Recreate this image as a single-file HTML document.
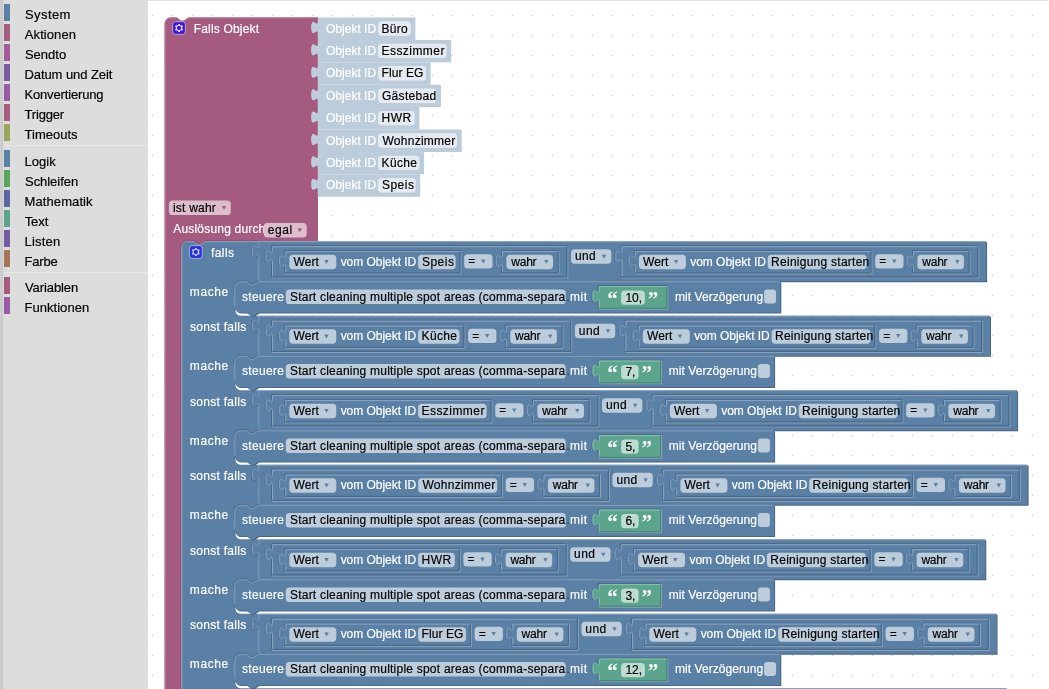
<!DOCTYPE html><html><head><meta charset="utf-8"><title>Blockly</title><style>html,body{margin:0;padding:0;width:1049px;height:689px;overflow:hidden;background:#fff}svg{position:absolute;left:0;top:0;will-change:transform;font-family:"Liberation Sans",Arial,sans-serif;font-size:12px}text{stroke-width:0.18px;paint-order:stroke}</style></head><body>
<svg width="1049" height="689" viewBox="0 0 1049 689">
<rect x="0" y="0" width="148" height="689" fill="#dddddd"/>
<rect x="0" y="0" width="3" height="689" fill="#cccccc"/>
<rect x="3" y="0" width="1" height="689" fill="#d7d7d7"/>
<rect x="4" y="4" width="6" height="17" fill="#5b80a5"/>
<text x="24.91" y="18.8" fill="#000" stroke="#000" font-size="13" textLength="45.55" lengthAdjust="spacing">System</text>
<rect x="4" y="24" width="6" height="17" fill="#a55b80"/>
<text x="24.87" y="38.8" fill="#000" stroke="#000" font-size="13" textLength="51.07" lengthAdjust="spacing">Aktionen</text>
<rect x="4" y="44" width="6" height="17" fill="#a55b99"/>
<text x="24.91" y="58.8" fill="#000" stroke="#000" font-size="13" textLength="41.24" lengthAdjust="spacing">Sendto</text>
<rect x="4" y="64" width="6" height="17" fill="#7a5ba5"/>
<text x="24.43" y="78.8" fill="#000" stroke="#000" font-size="13" textLength="87.96" lengthAdjust="spacing">Datum und Zeit</text>
<rect x="4" y="84" width="6" height="17" fill="#955ba5"/>
<text x="24.43" y="98.8" fill="#000" stroke="#000" font-size="13" textLength="79.1" lengthAdjust="spacing">Konvertierung</text>
<rect x="4" y="104" width="6" height="17" fill="#a55b80"/>
<text x="24.61" y="118.8" fill="#000" stroke="#000" font-size="13" textLength="39.51" lengthAdjust="spacing">Trigger</text>
<rect x="4" y="124" width="6" height="17" fill="#99a55b"/>
<text x="24.61" y="138.8" fill="#000" stroke="#000" font-size="13" textLength="52.96" lengthAdjust="spacing">Timeouts</text>
<rect x="4" y="150" width="6" height="17" fill="#5b80a5"/>
<text x="24.43" y="165.8" fill="#000" stroke="#000" font-size="13" textLength="31.35" lengthAdjust="spacing">Logik</text>
<rect x="4" y="170" width="6" height="17" fill="#5ba55b"/>
<text x="25.01" y="185.8" fill="#000" stroke="#000" font-size="13" textLength="53.13" lengthAdjust="spacing">Schleifen</text>
<rect x="4" y="190" width="6" height="17" fill="#5b67a5"/>
<text x="24.53" y="205.8" fill="#000" stroke="#000" font-size="13" textLength="68.05" lengthAdjust="spacing">Mathematik</text>
<rect x="4" y="210" width="6" height="17" fill="#5ba58c"/>
<text x="24.71" y="225.8" fill="#000" stroke="#000" font-size="13" textLength="23.59" lengthAdjust="spacing">Text</text>
<rect x="4" y="230" width="6" height="17" fill="#745ba5"/>
<text x="24.53" y="245.8" fill="#000" stroke="#000" font-size="13" textLength="35.61" lengthAdjust="spacing">Listen</text>
<rect x="4" y="250" width="6" height="17" fill="#a5745b"/>
<text x="24.53" y="265.8" fill="#000" stroke="#000" font-size="13" textLength="33.14" lengthAdjust="spacing">Farbe</text>
<rect x="4" y="277" width="6" height="17" fill="#a55b80"/>
<text x="24.94" y="291.6" fill="#000" stroke="#000" font-size="13" textLength="53.3" lengthAdjust="spacing">Variablen</text>
<rect x="4" y="297" width="6" height="17" fill="#995ba5"/>
<text x="24.53" y="311.6" fill="#000" stroke="#000" font-size="13" textLength="64.61" lengthAdjust="spacing">Funktionen</text>
<rect x="4" y="145" width="144" height="1" fill="#e8e8e8"/>
<rect x="4" y="272" width="144" height="1" fill="#e8e8e8"/>
<rect x="148" y="0" width="901" height="689" fill="#ffffff"/>
<rect x="148" y="0" width="901" height="1" fill="#e3e3e3"/>
<defs><pattern id="grid" x="0" y="0" width="20" height="20" patternUnits="userSpaceOnUse"><rect x="11.75" y="14.85" width="1.3" height="1.3" fill="#cdcdcd"/></pattern></defs>
<rect x="148" y="1" width="901" height="688" fill="url(#grid)"/>
<path d="M 164.5,23.7 a 6.4,6.4 0 0,1 6.4,-6.4 H 176.5 l 4.8,3.2 2.4,0 4.8,-3.2 H 318 V 17.5 v 4 c 0,8 -6.4,-6.4 -6.4,6 s 6.4,-2 6.4,6 V 39.9 v 4 c 0,8 -6.4,-6.4 -6.4,6 s 6.4,-2 6.4,6 V 62.3 v 4 c 0,8 -6.4,-6.4 -6.4,6 s 6.4,-2 6.4,6 V 84.7 v 4 c 0,8 -6.4,-6.4 -6.4,6 s 6.4,-2 6.4,6 V 107.1 v 4 c 0,8 -6.4,-6.4 -6.4,6 s 6.4,-2 6.4,6 V 129.5 v 4 c 0,8 -6.4,-6.4 -6.4,6 s 6.4,-2 6.4,6 V 151.9 v 4 c 0,8 -6.4,-6.4 -6.4,6 s 6.4,-2 6.4,6 V 174.3 v 4 c 0,8 -6.4,-6.4 -6.4,6 s 6.4,-2 6.4,6 V 241.2 H 205.4 l -4.8,3.2 -2.4,0 -4.8,-3.2 H 187.8 a 6.4,6.4 0 0,0 -6.4,6.4 V 720 H 164.5 Z" fill="#a55b80"/>
<path d="M 165,720 V 23.7 a 5.9,5.9 0 0,1 5.9,-5.9 H 176.5 l 4.8,3.2 2.4,0 4.8,-3.2 H 317.5" stroke="#c08ca6" stroke-width="1" stroke-opacity="0.8" fill="none"/>
<path d="M 180.8,247.6 V 700" stroke="#844966" stroke-width="1" stroke-opacity="0.6" fill="none"/>
<g transform="translate(172.6,21.6) scale(0.8)">
<rect width="16" height="16" rx="3.5" fill="#3c1ed2" stroke="#d9b8d0" stroke-opacity="0.9" stroke-width="1.1"/>
<path d="m4.203,7.296 0,1.368 -0.92,0.677 -0.11,0.41 0.9,1.559 0.41,0.11 1.043,-0.457 1.187,0.683 0.127,1.134 0.3,0.3 1.8,0 0.3,-0.299 0.127,-1.138 1.185,-0.682 1.046,0.458 0.409,-0.11 0.9,-1.559 -0.11,-0.41 -0.92,-0.677 0,-1.366 0.92,-0.677 0.11,-0.41 -0.9,-1.559 -0.409,-0.109 -1.046,0.458 -1.185,-0.682 -0.127,-1.138 -0.3,-0.299 -1.8,0 -0.3,0.3 -0.126,1.135 -1.187,0.682 -1.043,-0.457 -0.41,0.11 -0.899,1.559 0.108,0.409z" fill="#ecd2df"/>
<circle cx="8" cy="8" r="2.7" fill="#3c1ed2"/>
</g>
<text x="193.72" y="32.6" fill="#fff" stroke="#fff" textLength="65.37" lengthAdjust="spacing">Falls Objekt</text>
<path d="M 317.8,17.5 H 415.4 V 39.9 H 317.8 V 33.5 c 0,-8 -6.4,6.4 -6.4,-6 s 6.4,2 6.4,-6 Z" fill="#bdccdb"/>
<text x="326.03" y="32.6" fill="#fff" stroke="#fff" textLength="50.04" lengthAdjust="spacing">Objekt ID</text>
<rect x="378.1" y="21.3" width="32.7" height="14.4" rx="3.6" fill="#e5ebf1"/>
<text x="381.52" y="32.6" fill="#000" stroke="#000" textLength="26.29" lengthAdjust="spacing">Büro</text>
<path d="M 317.8,39.9 H 451.2 V 62.3 H 317.8 V 55.9 c 0,-8 -6.4,6.4 -6.4,-6 s 6.4,2 6.4,-6 Z" fill="#bdccdb"/>
<text x="326.03" y="55" fill="#fff" stroke="#fff" textLength="50.04" lengthAdjust="spacing">Objekt ID</text>
<rect x="378.1" y="43.7" width="68.5" height="14.4" rx="3.6" fill="#e5ebf1"/>
<text x="381.52" y="55" fill="#000" stroke="#000" textLength="62.88" lengthAdjust="spacing">Esszimmer</text>
<path d="M 317.8,62.3 H 430.6 V 84.7 H 317.8 V 78.3 c 0,-8 -6.4,6.4 -6.4,-6 s 6.4,2 6.4,-6 Z" fill="#bdccdb"/>
<text x="326.03" y="77.4" fill="#fff" stroke="#fff" textLength="50.04" lengthAdjust="spacing">Objekt ID</text>
<rect x="378.1" y="66.1" width="47.9" height="14.4" rx="3.6" fill="#e5ebf1"/>
<text x="381.52" y="77.4" fill="#000" stroke="#000" textLength="41.88" lengthAdjust="spacing">Flur EG</text>
<path d="M 317.8,84.7 H 440.9 V 107.1 H 317.8 V 100.7 c 0,-8 -6.4,6.4 -6.4,-6 s 6.4,2 6.4,-6 Z" fill="#bdccdb"/>
<text x="326.03" y="99.8" fill="#fff" stroke="#fff" textLength="50.04" lengthAdjust="spacing">Objekt ID</text>
<rect x="378.1" y="88.5" width="58.2" height="14.4" rx="3.6" fill="#e5ebf1"/>
<text x="381.9" y="99.8" fill="#000" stroke="#000" textLength="54.38" lengthAdjust="spacing">Gästebad</text>
<path d="M 317.8,107.1 H 419.4 V 129.5 H 317.8 V 123.1 c 0,-8 -6.4,6.4 -6.4,-6 s 6.4,2 6.4,-6 Z" fill="#bdccdb"/>
<text x="326.03" y="122.2" fill="#fff" stroke="#fff" textLength="50.04" lengthAdjust="spacing">Objekt ID</text>
<rect x="378.1" y="110.9" width="36.7" height="14.4" rx="3.6" fill="#e5ebf1"/>
<text x="381.52" y="122.2" fill="#000" stroke="#000" textLength="29.54" lengthAdjust="spacing">HWR</text>
<path d="M 317.8,129.5 H 461.7 V 151.9 H 317.8 V 145.5 c 0,-8 -6.4,6.4 -6.4,-6 s 6.4,2 6.4,-6 Z" fill="#bdccdb"/>
<text x="326.03" y="144.6" fill="#fff" stroke="#fff" textLength="50.04" lengthAdjust="spacing">Objekt ID</text>
<rect x="378.1" y="133.3" width="79" height="14.4" rx="3.6" fill="#e5ebf1"/>
<text x="382.45" y="144.6" fill="#000" stroke="#000" textLength="72.85" lengthAdjust="spacing">Wohnzimmer</text>
<path d="M 317.8,151.9 H 424.1 V 174.3 H 317.8 V 167.9 c 0,-8 -6.4,6.4 -6.4,-6 s 6.4,2 6.4,-6 Z" fill="#bdccdb"/>
<text x="326.03" y="167" fill="#fff" stroke="#fff" textLength="50.04" lengthAdjust="spacing">Objekt ID</text>
<rect x="378.1" y="155.7" width="41.4" height="14.4" rx="3.6" fill="#e5ebf1"/>
<text x="381.52" y="167" fill="#000" stroke="#000" textLength="35.52" lengthAdjust="spacing">Küche</text>
<path d="M 317.8,174.3 H 420.2 V 196.7 H 317.8 V 190.3 c 0,-8 -6.4,6.4 -6.4,-6 s 6.4,2 6.4,-6 Z" fill="#bdccdb"/>
<text x="326.03" y="189.4" fill="#fff" stroke="#fff" textLength="50.04" lengthAdjust="spacing">Objekt ID</text>
<rect x="378.1" y="178.1" width="37.5" height="14.4" rx="3.6" fill="#e5ebf1"/>
<text x="381.96" y="189.4" fill="#000" stroke="#000" textLength="31.98" lengthAdjust="spacing">Speis</text>
<rect x="168.9" y="200.6" width="61.9" height="14.4" rx="3.6" fill="#dbbdcc"/>
<text x="173" y="211.7" fill="#000" stroke="#000" textLength="42.8" lengthAdjust="spacing">ist wahr</text>
<path d="M 221.9,205.9 h 4.4 l -2.2,3.9 z" fill="#a55b80"/>
<text x="173.28" y="233.3" fill="#fff" stroke="#fff" textLength="92" lengthAdjust="spacing">Auslösung durch</text>
<rect x="263.7" y="223" width="43" height="14.4" rx="3.6" fill="#dbbdcc"/>
<text x="267.79" y="234" fill="#000" stroke="#000" textLength="24.31" lengthAdjust="spacing">egal</text>
<path d="M 297.6,228.3 h 4.4 l -2.2,3.9 z" fill="#a55b80"/>
<path d="M 181.4,247.6 a 6.4,6.4 0 0,1 6.4,-6.4 H 193.4 l 4.8,3.2 2.4,0 4.8,-3.2 H 258.3 V 241.2 v 4 c 0,8 -6.4,-6.4 -6.4,6 s 6.4,-2 6.4,6 V 281.3 H 258.3 l -4.8,3.2 -2.4,0 -4.8,-3.2 H 240.7 a 6.4,6.4 0 0,0 -6.4,6.4 V 309.3 a 6.4,6.4 0 0,0 6.4,6.4 H 258.3 V 315.7 v 4 c 0,8 -6.4,-6.4 -6.4,6 s 6.4,-2 6.4,6 V 355.8 H 258.3 l -4.8,3.2 -2.4,0 -4.8,-3.2 H 240.7 a 6.4,6.4 0 0,0 -6.4,6.4 V 383.8 a 6.4,6.4 0 0,0 6.4,6.4 H 258.3 V 390.2 v 4 c 0,8 -6.4,-6.4 -6.4,6 s 6.4,-2 6.4,6 V 430.3 H 258.3 l -4.8,3.2 -2.4,0 -4.8,-3.2 H 240.7 a 6.4,6.4 0 0,0 -6.4,6.4 V 458.3 a 6.4,6.4 0 0,0 6.4,6.4 H 258.3 V 464.7 v 4 c 0,8 -6.4,-6.4 -6.4,6 s 6.4,-2 6.4,6 V 504.8 H 258.3 l -4.8,3.2 -2.4,0 -4.8,-3.2 H 240.7 a 6.4,6.4 0 0,0 -6.4,6.4 V 532.8 a 6.4,6.4 0 0,0 6.4,6.4 H 258.3 V 539.2 v 4 c 0,8 -6.4,-6.4 -6.4,6 s 6.4,-2 6.4,6 V 579.3 H 258.3 l -4.8,3.2 -2.4,0 -4.8,-3.2 H 240.7 a 6.4,6.4 0 0,0 -6.4,6.4 V 607.3 a 6.4,6.4 0 0,0 6.4,6.4 H 258.3 V 613.7 v 4 c 0,8 -6.4,-6.4 -6.4,6 s 6.4,-2 6.4,6 V 653.8 H 258.3 l -4.8,3.2 -2.4,0 -4.8,-3.2 H 240.7 a 6.4,6.4 0 0,0 -6.4,6.4 V 681.8 a 6.4,6.4 0 0,0 6.4,6.4 H 258.3 V 720 H 181.4 Z" fill="#496684" transform="translate(1,1)"/>
<path d="M 181.4,247.6 a 6.4,6.4 0 0,1 6.4,-6.4 H 193.4 l 4.8,3.2 2.4,0 4.8,-3.2 H 258.3 V 241.2 v 4 c 0,8 -6.4,-6.4 -6.4,6 s 6.4,-2 6.4,6 V 281.3 H 258.3 l -4.8,3.2 -2.4,0 -4.8,-3.2 H 240.7 a 6.4,6.4 0 0,0 -6.4,6.4 V 309.3 a 6.4,6.4 0 0,0 6.4,6.4 H 258.3 V 315.7 v 4 c 0,8 -6.4,-6.4 -6.4,6 s 6.4,-2 6.4,6 V 355.8 H 258.3 l -4.8,3.2 -2.4,0 -4.8,-3.2 H 240.7 a 6.4,6.4 0 0,0 -6.4,6.4 V 383.8 a 6.4,6.4 0 0,0 6.4,6.4 H 258.3 V 390.2 v 4 c 0,8 -6.4,-6.4 -6.4,6 s 6.4,-2 6.4,6 V 430.3 H 258.3 l -4.8,3.2 -2.4,0 -4.8,-3.2 H 240.7 a 6.4,6.4 0 0,0 -6.4,6.4 V 458.3 a 6.4,6.4 0 0,0 6.4,6.4 H 258.3 V 464.7 v 4 c 0,8 -6.4,-6.4 -6.4,6 s 6.4,-2 6.4,6 V 504.8 H 258.3 l -4.8,3.2 -2.4,0 -4.8,-3.2 H 240.7 a 6.4,6.4 0 0,0 -6.4,6.4 V 532.8 a 6.4,6.4 0 0,0 6.4,6.4 H 258.3 V 539.2 v 4 c 0,8 -6.4,-6.4 -6.4,6 s 6.4,-2 6.4,6 V 579.3 H 258.3 l -4.8,3.2 -2.4,0 -4.8,-3.2 H 240.7 a 6.4,6.4 0 0,0 -6.4,6.4 V 607.3 a 6.4,6.4 0 0,0 6.4,6.4 H 258.3 V 613.7 v 4 c 0,8 -6.4,-6.4 -6.4,6 s 6.4,-2 6.4,6 V 653.8 H 258.3 l -4.8,3.2 -2.4,0 -4.8,-3.2 H 240.7 a 6.4,6.4 0 0,0 -6.4,6.4 V 681.8 a 6.4,6.4 0 0,0 6.4,6.4 H 258.3 V 720 H 181.4 Z" fill="#5b80a5"/>
<path d="M 180.9,250.6 V 247.6 a 6.9,6.9 0 0,1 6.9,-6.9 H 193.4 l 4.8,3.2 2.4,0 4.8,-3.2 H 258.3" stroke="#844966" stroke-width="1" stroke-opacity="0.7" fill="none"/>
<path d="M 181.9,720 V 247.6 a 5.9,5.9 0 0,1 5.9,-5.9 H 193.4 l 4.8,3.2 2.4,0 4.8,-3.2 H 257.8" stroke="#8ca6c0" stroke-width="1" stroke-opacity="0.8" fill="none"/>
<g transform="translate(189.4,245.6) scale(0.8)">
<rect width="16" height="16" rx="3.5" fill="#2a30dc" stroke="#b8c6dc" stroke-opacity="0.9" stroke-width="1.1"/>
<path d="m4.203,7.296 0,1.368 -0.92,0.677 -0.11,0.41 0.9,1.559 0.41,0.11 1.043,-0.457 1.187,0.683 0.127,1.134 0.3,0.3 1.8,0 0.3,-0.299 0.127,-1.138 1.185,-0.682 1.046,0.458 0.409,-0.11 0.9,-1.559 -0.11,-0.41 -0.92,-0.677 0,-1.366 0.92,-0.677 0.11,-0.41 -0.9,-1.559 -0.409,-0.109 -1.046,0.458 -1.185,-0.682 -0.127,-1.138 -0.3,-0.299 -1.8,0 -0.3,0.3 -0.126,1.135 -1.187,0.682 -1.043,-0.457 -0.41,0.11 -0.899,1.559 0.108,0.409z" fill="#c6d2e6"/>
<circle cx="8" cy="8" r="2.7" fill="#2a30dc"/>
</g>
<text x="211.03" y="257" fill="#fff" stroke="#fff" textLength="22.9" lengthAdjust="spacing">falls</text>
<text x="189.8" y="295.9" fill="#fff" stroke="#fff" textLength="38.43" lengthAdjust="spacing">mache</text>
<text x="190.07" y="331.2" fill="#fff" stroke="#fff" textLength="56.07" lengthAdjust="spacing">sonst falls</text>
<text x="189.8" y="370.4" fill="#fff" stroke="#fff" textLength="38.43" lengthAdjust="spacing">mache</text>
<text x="190.07" y="405.7" fill="#fff" stroke="#fff" textLength="56.07" lengthAdjust="spacing">sonst falls</text>
<text x="189.8" y="444.9" fill="#fff" stroke="#fff" textLength="38.43" lengthAdjust="spacing">mache</text>
<text x="190.07" y="480.2" fill="#fff" stroke="#fff" textLength="56.07" lengthAdjust="spacing">sonst falls</text>
<text x="189.8" y="519.4" fill="#fff" stroke="#fff" textLength="38.43" lengthAdjust="spacing">mache</text>
<text x="190.07" y="554.7" fill="#fff" stroke="#fff" textLength="56.07" lengthAdjust="spacing">sonst falls</text>
<text x="189.8" y="593.9" fill="#fff" stroke="#fff" textLength="38.43" lengthAdjust="spacing">mache</text>
<text x="190.07" y="629.2" fill="#fff" stroke="#fff" textLength="56.07" lengthAdjust="spacing">sonst falls</text>
<text x="189.8" y="668.4" fill="#fff" stroke="#fff" textLength="38.43" lengthAdjust="spacing">mache</text>
<path d="M 258.3,241.2 H 986.1 V 281.2 H 258.3 V 257.2 c 0,-8 -6.4,6.4 -6.4,-6 s 6.4,2 6.4,-6 Z" fill="#496684" transform="translate(1,1)"/>
<path d="M 258.3,241.2 H 986.1 V 281.2 H 258.3 V 257.2 c 0,-8 -6.4,6.4 -6.4,-6 s 6.4,2 6.4,-6 Z" fill="#5b80a5"/>
<path d="M 258.3,241.7 H 985.1 M 258.8,241.7 V 245.2 M 258.8,257.2 V 280.7" stroke="#8ca6c0" stroke-width="1" stroke-opacity="0.8" fill="none"/>
<path d="M 257.6,257.5 c 0,-8 -6.4,6.4 -6.4,-6 s 6.4,2 6.4,-6" stroke="#496684" stroke-width="1" stroke-opacity="0.55" fill="none"/>
<path d="M 258.9,257.2 c 0,-8 -6.4,6.4 -6.4,-6 s 6.4,2 6.4,-6" stroke="#8ca6c0" stroke-width="1" stroke-opacity="0.85" fill="none"/>
<path d="M 271.5,245.7 H 567.3 M 271.5,245.7 V 250.2" stroke="#496684" stroke-width="1" fill="none"/>
<path d="M 271.5,262.2 V 277.4" stroke="#496684" stroke-width="1" fill="none"/>
<path d="M 271.3,262.5 c 0,-8 -6.4,6.4 -6.4,-6 s 6.4,2 6.4,-6" stroke="#496684" stroke-width="1" stroke-opacity="0.55" fill="none"/>
<path d="M 272,277.9 H 567.8 V 246.2" stroke="#8ca6c0" stroke-width="1" fill="none"/>
<path d="M 272,246.2 H 567.3 V 277.4 H 272 V 262.2 c 0,-8 -6.4,6.4 -6.4,-6 s 6.4,2 6.4,-6 Z" fill="#5b80a5"/>
<path d="M 272.6,262.2 c 0,-8 -6.4,6.4 -6.4,-6 s 6.4,2 6.4,-6" stroke="#8ca6c0" stroke-width="1" stroke-opacity="0.85" fill="none"/>
<path d="M 272.5,276.4 V 262.2 M 272.5,250.2 V 246.7 H 566.3" stroke="#8ca6c0" stroke-width="1" fill="none"/>
<path d="M 566.8,246.7 V 276.9 H 272.5" stroke="#496684" stroke-width="1" fill="none"/>
<path d="M 284.8,250.6 H 460.4 M 284.8,250.6 V 255.1" stroke="#496684" stroke-width="1" fill="none"/>
<path d="M 284.8,267.1 V 273.3" stroke="#496684" stroke-width="1" fill="none"/>
<path d="M 284.6,267.4 c 0,-8 -6.4,6.4 -6.4,-6 s 6.4,2 6.4,-6" stroke="#496684" stroke-width="1" stroke-opacity="0.55" fill="none"/>
<path d="M 285.3,273.8 H 460.9 V 251.1" stroke="#8ca6c0" stroke-width="1" fill="none"/>
<path d="M 285.3,251.1 H 460.4 V 273.3 H 285.3 V 267.1 c 0,-8 -6.4,6.4 -6.4,-6 s 6.4,2 6.4,-6 Z" fill="#5b80a5"/>
<path d="M 285.9,267.1 c 0,-8 -6.4,6.4 -6.4,-6 s 6.4,2 6.4,-6" stroke="#8ca6c0" stroke-width="1" stroke-opacity="0.85" fill="none"/>
<path d="M 285.8,272.3 V 267.1 M 285.8,255.1 V 251.6 H 459.4" stroke="#8ca6c0" stroke-width="1" fill="none"/>
<path d="M 459.9,251.6 V 272.8 H 285.8" stroke="#496684" stroke-width="1" fill="none"/>
<rect x="289.3" y="254.8" width="47" height="14.4" rx="3.6" fill="#bdccdb"/>
<text x="293.45" y="265.7" fill="#000" stroke="#000" textLength="25.34" lengthAdjust="spacing">Wert</text>
<path d="M 324.3,260.1 h 4.4 l -2.2,3.9 z" fill="#5b80a5"/>
<text x="340.66" y="265.7" fill="#fff" stroke="#fff" textLength="75.62" lengthAdjust="spacing">vom Objekt ID</text>
<rect x="418.1" y="254.8" width="37.5" height="14.4" rx="3.6" fill="#bdccdb"/>
<text x="421.96" y="265.7" fill="#000" stroke="#000" textLength="31.98" lengthAdjust="spacing">Speis</text>
<rect x="464.2" y="254.2" width="28.3" height="14.4" rx="3.6" fill="#bdccdb"/>
<text x="468.31" y="265.1" fill="#000" stroke="#000" textLength="6.98" lengthAdjust="spacing">=</text>
<path d="M 481.1,259.6 h 4.4 l -2.2,3.9 z" fill="#5b80a5"/>
<path d="M 501.5,250.6 H 558.5 M 501.5,250.6 V 255.1" stroke="#496684" stroke-width="1" fill="none"/>
<path d="M 501.5,267.1 V 273.3" stroke="#496684" stroke-width="1" fill="none"/>
<path d="M 501.3,267.4 c 0,-8 -6.4,6.4 -6.4,-6 s 6.4,2 6.4,-6" stroke="#496684" stroke-width="1" stroke-opacity="0.55" fill="none"/>
<path d="M 502,273.8 H 559 V 251.1" stroke="#8ca6c0" stroke-width="1" fill="none"/>
<path d="M 502,251.1 H 558.5 V 273.3 H 502 V 267.1 c 0,-8 -6.4,6.4 -6.4,-6 s 6.4,2 6.4,-6 Z" fill="#5b80a5"/>
<path d="M 502.6,267.1 c 0,-8 -6.4,6.4 -6.4,-6 s 6.4,2 6.4,-6" stroke="#8ca6c0" stroke-width="1" stroke-opacity="0.85" fill="none"/>
<path d="M 502.5,272.3 V 267.1 M 502.5,255.1 V 251.6 H 557.5" stroke="#8ca6c0" stroke-width="1" fill="none"/>
<path d="M 558,251.6 V 272.8 H 502.5" stroke="#496684" stroke-width="1" fill="none"/>
<rect x="506.4" y="254.8" width="46.6" height="14.4" rx="3.6" fill="#bdccdb"/>
<text x="511.22" y="265.7" fill="#000" stroke="#000" textLength="25.38" lengthAdjust="spacing">wahr</text>
<path d="M 544.1,260.1 h 4.4 l -2.2,3.9 z" fill="#5b80a5"/>
<rect x="571" y="249.3" width="40.3" height="14.4" rx="3.6" fill="#bdccdb"/>
<text x="574.92" y="260.3" fill="#000" stroke="#000" textLength="20.85" lengthAdjust="spacing">und</text>
<path d="M 601.9,254.8 h 4.4 l -2.2,3.9 z" fill="#5b80a5"/>
<path d="M 621.1,245.7 H 978.3 M 621.1,245.7 V 250.2" stroke="#496684" stroke-width="1" fill="none"/>
<path d="M 621.1,262.2 V 277.4" stroke="#496684" stroke-width="1" fill="none"/>
<path d="M 620.9,262.5 c 0,-8 -6.4,6.4 -6.4,-6 s 6.4,2 6.4,-6" stroke="#496684" stroke-width="1" stroke-opacity="0.55" fill="none"/>
<path d="M 621.6,277.9 H 978.8 V 246.2" stroke="#8ca6c0" stroke-width="1" fill="none"/>
<path d="M 621.6,246.2 H 978.3 V 277.4 H 621.6 V 262.2 c 0,-8 -6.4,6.4 -6.4,-6 s 6.4,2 6.4,-6 Z" fill="#5b80a5"/>
<path d="M 622.2,262.2 c 0,-8 -6.4,6.4 -6.4,-6 s 6.4,2 6.4,-6" stroke="#8ca6c0" stroke-width="1" stroke-opacity="0.85" fill="none"/>
<path d="M 622.1,276.4 V 262.2 M 622.1,250.2 V 246.7 H 977.3" stroke="#8ca6c0" stroke-width="1" fill="none"/>
<path d="M 977.8,246.7 V 276.9 H 622.1" stroke="#496684" stroke-width="1" fill="none"/>
<path d="M 634.4,250.6 H 871.4 M 634.4,250.6 V 255.1" stroke="#496684" stroke-width="1" fill="none"/>
<path d="M 634.4,267.1 V 273.3" stroke="#496684" stroke-width="1" fill="none"/>
<path d="M 634.2,267.4 c 0,-8 -6.4,6.4 -6.4,-6 s 6.4,2 6.4,-6" stroke="#496684" stroke-width="1" stroke-opacity="0.55" fill="none"/>
<path d="M 634.9,273.8 H 871.9 V 251.1" stroke="#8ca6c0" stroke-width="1" fill="none"/>
<path d="M 634.9,251.1 H 871.4 V 273.3 H 634.9 V 267.1 c 0,-8 -6.4,6.4 -6.4,-6 s 6.4,2 6.4,-6 Z" fill="#5b80a5"/>
<path d="M 635.5,267.1 c 0,-8 -6.4,6.4 -6.4,-6 s 6.4,2 6.4,-6" stroke="#8ca6c0" stroke-width="1" stroke-opacity="0.85" fill="none"/>
<path d="M 635.4,272.3 V 267.1 M 635.4,255.1 V 251.6 H 870.4" stroke="#8ca6c0" stroke-width="1" fill="none"/>
<path d="M 870.9,251.6 V 272.8 H 635.4" stroke="#496684" stroke-width="1" fill="none"/>
<rect x="638.9" y="254.8" width="47" height="14.4" rx="3.6" fill="#bdccdb"/>
<text x="643.05" y="265.7" fill="#000" stroke="#000" textLength="25.34" lengthAdjust="spacing">Wert</text>
<path d="M 673.9,260.1 h 4.4 l -2.2,3.9 z" fill="#5b80a5"/>
<text x="690.26" y="265.7" fill="#fff" stroke="#fff" textLength="75.62" lengthAdjust="spacing">vom Objekt ID</text>
<rect x="767.7" y="254.8" width="98.9" height="14.4" rx="3.6" fill="#bdccdb"/>
<text x="771.12" y="265.7" fill="#000" stroke="#000" textLength="98.16" lengthAdjust="spacing">Reinigung starten</text>
<rect x="875.2" y="254.2" width="28.3" height="14.4" rx="3.6" fill="#bdccdb"/>
<text x="879.31" y="265.1" fill="#000" stroke="#000" textLength="6.98" lengthAdjust="spacing">=</text>
<path d="M 892.1,259.6 h 4.4 l -2.2,3.9 z" fill="#5b80a5"/>
<path d="M 912.5,250.6 H 969.5 M 912.5,250.6 V 255.1" stroke="#496684" stroke-width="1" fill="none"/>
<path d="M 912.5,267.1 V 273.3" stroke="#496684" stroke-width="1" fill="none"/>
<path d="M 912.3,267.4 c 0,-8 -6.4,6.4 -6.4,-6 s 6.4,2 6.4,-6" stroke="#496684" stroke-width="1" stroke-opacity="0.55" fill="none"/>
<path d="M 913,273.8 H 970 V 251.1" stroke="#8ca6c0" stroke-width="1" fill="none"/>
<path d="M 913,251.1 H 969.5 V 273.3 H 913 V 267.1 c 0,-8 -6.4,6.4 -6.4,-6 s 6.4,2 6.4,-6 Z" fill="#5b80a5"/>
<path d="M 913.6,267.1 c 0,-8 -6.4,6.4 -6.4,-6 s 6.4,2 6.4,-6" stroke="#8ca6c0" stroke-width="1" stroke-opacity="0.85" fill="none"/>
<path d="M 913.5,272.3 V 267.1 M 913.5,255.1 V 251.6 H 968.5" stroke="#8ca6c0" stroke-width="1" fill="none"/>
<path d="M 969,251.6 V 272.8 H 913.5" stroke="#496684" stroke-width="1" fill="none"/>
<rect x="917.4" y="254.8" width="46.6" height="14.4" rx="3.6" fill="#bdccdb"/>
<text x="922.22" y="265.7" fill="#000" stroke="#000" textLength="25.38" lengthAdjust="spacing">wahr</text>
<path d="M 955.1,260.1 h 4.4 l -2.2,3.9 z" fill="#5b80a5"/>
<path d="M 234.3,287.7 a 6.4,6.4 0 0,1 6.4,-6.4 H 246.3 l 4.8,3.2 2.4,0 4.8,-3.2 H 780.3 V 312.6 H 258.3 l -4.8,3.2 -2.4,0 -4.8,-3.2 H 240.7 a 6.4,6.4 0 0,1 -6.4,-6.4 Z" fill="#496684" transform="translate(1,1)"/>
<path d="M 234.3,287.7 a 6.4,6.4 0 0,1 6.4,-6.4 H 246.3 l 4.8,3.2 2.4,0 4.8,-3.2 H 780.3 V 312.6 H 258.3 l -4.8,3.2 -2.4,0 -4.8,-3.2 H 240.7 a 6.4,6.4 0 0,1 -6.4,-6.4 Z" fill="#5b80a5"/>
<path d="M 233.8,289.7 V 287.7 a 6.9,6.9 0 0,1 6.9,-6.9 H 246.3 l 4.8,3.2 2.4,0 4.8,-3.2 H 258.3" stroke="#496684" stroke-width="1" stroke-opacity="0.9" fill="none"/>
<path d="M 234.8,306.2 V 287.7 a 5.9,5.9 0 0,1 5.9,-5.9 H 246.3 l 4.8,3.2 2.4,0 4.8,-3.2 H 779.8" stroke="#8ca6c0" stroke-width="1" stroke-opacity="0.85" fill="none"/>
<text x="242.07" y="300.5" fill="#fff" stroke="#fff" textLength="41.87" lengthAdjust="spacing">steuere</text>
<rect x="285.8" y="289.6" width="280" height="14.4" rx="3.6" fill="#bdccdb"/>
<text x="289.96" y="300.5" fill="#000" stroke="#000" textLength="275.34" lengthAdjust="spacing">Start cleaning multiple spot areas (comma-separa</text>
<text x="565.9" y="300.5" fill="#000" fill-opacity="0.75" font-size="11">…</text>
<text x="570.1" y="300.5" fill="#fff" stroke="#fff" textLength="16.88" lengthAdjust="spacing">mit</text>
<path d="M 598.3,285.6 H 667.3 M 598.3,285.6 V 290.1" stroke="#496684" stroke-width="1" fill="none"/>
<path d="M 598.3,302.1 V 308.7" stroke="#496684" stroke-width="1" fill="none"/>
<path d="M 598.1,302.4 c 0,-8 -6.4,6.4 -6.4,-6 s 6.4,2 6.4,-6" stroke="#496684" stroke-width="1" stroke-opacity="0.55" fill="none"/>
<path d="M 598.8,309.2 H 667.8 V 286.1" stroke="#8ca6c0" stroke-width="1" fill="none"/>
<path d="M 598.8,286.1 H 667.3 V 308.7 H 598.8 V 302.1 c 0,-8 -6.4,6.4 -6.4,-6 s 6.4,2 6.4,-6 Z" fill="#5ba58c"/>
<path d="M 599.4,302.1 c 0,-8 -6.4,6.4 -6.4,-6 s 6.4,2 6.4,-6" stroke="#8cc0ae" stroke-width="1" stroke-opacity="0.85" fill="none"/>
<path d="M 599.3,307.7 V 302.1 M 599.3,290.1 V 286.6 H 666.3" stroke="#8cc0ae" stroke-width="1" fill="none"/>
<path d="M 666.8,286.6 V 308.2 H 599.3" stroke="#498470" stroke-width="1" fill="none"/>
<text x="607.2" y="305.7" fill="#fff" font-size="21" font-weight="bold" font-family="Liberation Serif, serif">“</text>
<rect x="621.1" y="290.4" width="23.8" height="14.4" rx="3.6" fill="#bddbd1"/>
<text x="625.4" y="301.7" fill="#000" stroke="#000">10,</text>
<text x="647.8" y="305.7" fill="#fff" font-size="21" font-weight="bold" font-family="Liberation Serif, serif">”</text>
<text x="675" y="300.5" fill="#fff" stroke="#fff" textLength="88.07" lengthAdjust="spacing">mit Verzögerung</text>
<rect x="764.1" y="289.4" width="12" height="14" rx="3.2" fill="#bdccdb"/>
<path d="M 258.3,315.7 H 990 V 355.7 H 258.3 V 331.7 c 0,-8 -6.4,6.4 -6.4,-6 s 6.4,2 6.4,-6 Z" fill="#496684" transform="translate(1,1)"/>
<path d="M 258.3,315.7 H 990 V 355.7 H 258.3 V 331.7 c 0,-8 -6.4,6.4 -6.4,-6 s 6.4,2 6.4,-6 Z" fill="#5b80a5"/>
<path d="M 258.3,316.2 H 989 M 258.8,316.2 V 319.7 M 258.8,331.7 V 355.2" stroke="#8ca6c0" stroke-width="1" stroke-opacity="0.8" fill="none"/>
<path d="M 257.6,332 c 0,-8 -6.4,6.4 -6.4,-6 s 6.4,2 6.4,-6" stroke="#496684" stroke-width="1" stroke-opacity="0.55" fill="none"/>
<path d="M 258.9,331.7 c 0,-8 -6.4,6.4 -6.4,-6 s 6.4,2 6.4,-6" stroke="#8ca6c0" stroke-width="1" stroke-opacity="0.85" fill="none"/>
<path d="M 271.5,320.2 H 571.2 M 271.5,320.2 V 324.7" stroke="#496684" stroke-width="1" fill="none"/>
<path d="M 271.5,336.7 V 351.9" stroke="#496684" stroke-width="1" fill="none"/>
<path d="M 271.3,337 c 0,-8 -6.4,6.4 -6.4,-6 s 6.4,2 6.4,-6" stroke="#496684" stroke-width="1" stroke-opacity="0.55" fill="none"/>
<path d="M 272,352.4 H 571.7 V 320.7" stroke="#8ca6c0" stroke-width="1" fill="none"/>
<path d="M 272,320.7 H 571.2 V 351.9 H 272 V 336.7 c 0,-8 -6.4,6.4 -6.4,-6 s 6.4,2 6.4,-6 Z" fill="#5b80a5"/>
<path d="M 272.6,336.7 c 0,-8 -6.4,6.4 -6.4,-6 s 6.4,2 6.4,-6" stroke="#8ca6c0" stroke-width="1" stroke-opacity="0.85" fill="none"/>
<path d="M 272.5,350.9 V 336.7 M 272.5,324.7 V 321.2 H 570.2" stroke="#8ca6c0" stroke-width="1" fill="none"/>
<path d="M 570.7,321.2 V 351.4 H 272.5" stroke="#496684" stroke-width="1" fill="none"/>
<path d="M 284.8,325.1 H 464.3 M 284.8,325.1 V 329.6" stroke="#496684" stroke-width="1" fill="none"/>
<path d="M 284.8,341.6 V 347.8" stroke="#496684" stroke-width="1" fill="none"/>
<path d="M 284.6,341.9 c 0,-8 -6.4,6.4 -6.4,-6 s 6.4,2 6.4,-6" stroke="#496684" stroke-width="1" stroke-opacity="0.55" fill="none"/>
<path d="M 285.3,348.3 H 464.8 V 325.6" stroke="#8ca6c0" stroke-width="1" fill="none"/>
<path d="M 285.3,325.6 H 464.3 V 347.8 H 285.3 V 341.6 c 0,-8 -6.4,6.4 -6.4,-6 s 6.4,2 6.4,-6 Z" fill="#5b80a5"/>
<path d="M 285.9,341.6 c 0,-8 -6.4,6.4 -6.4,-6 s 6.4,2 6.4,-6" stroke="#8ca6c0" stroke-width="1" stroke-opacity="0.85" fill="none"/>
<path d="M 285.8,346.8 V 341.6 M 285.8,329.6 V 326.1 H 463.3" stroke="#8ca6c0" stroke-width="1" fill="none"/>
<path d="M 463.8,326.1 V 347.3 H 285.8" stroke="#496684" stroke-width="1" fill="none"/>
<rect x="289.3" y="329.3" width="47" height="14.4" rx="3.6" fill="#bdccdb"/>
<text x="293.45" y="340.2" fill="#000" stroke="#000" textLength="25.34" lengthAdjust="spacing">Wert</text>
<path d="M 324.3,334.6 h 4.4 l -2.2,3.9 z" fill="#5b80a5"/>
<text x="340.66" y="340.2" fill="#fff" stroke="#fff" textLength="75.62" lengthAdjust="spacing">vom Objekt ID</text>
<rect x="418.1" y="329.3" width="41.4" height="14.4" rx="3.6" fill="#bdccdb"/>
<text x="421.52" y="340.2" fill="#000" stroke="#000" textLength="35.52" lengthAdjust="spacing">Küche</text>
<rect x="468.1" y="328.7" width="28.3" height="14.4" rx="3.6" fill="#bdccdb"/>
<text x="472.21" y="339.6" fill="#000" stroke="#000" textLength="6.98" lengthAdjust="spacing">=</text>
<path d="M 485,334.1 h 4.4 l -2.2,3.9 z" fill="#5b80a5"/>
<path d="M 505.4,325.1 H 562.4 M 505.4,325.1 V 329.6" stroke="#496684" stroke-width="1" fill="none"/>
<path d="M 505.4,341.6 V 347.8" stroke="#496684" stroke-width="1" fill="none"/>
<path d="M 505.2,341.9 c 0,-8 -6.4,6.4 -6.4,-6 s 6.4,2 6.4,-6" stroke="#496684" stroke-width="1" stroke-opacity="0.55" fill="none"/>
<path d="M 505.9,348.3 H 562.9 V 325.6" stroke="#8ca6c0" stroke-width="1" fill="none"/>
<path d="M 505.9,325.6 H 562.4 V 347.8 H 505.9 V 341.6 c 0,-8 -6.4,6.4 -6.4,-6 s 6.4,2 6.4,-6 Z" fill="#5b80a5"/>
<path d="M 506.5,341.6 c 0,-8 -6.4,6.4 -6.4,-6 s 6.4,2 6.4,-6" stroke="#8ca6c0" stroke-width="1" stroke-opacity="0.85" fill="none"/>
<path d="M 506.4,346.8 V 341.6 M 506.4,329.6 V 326.1 H 561.4" stroke="#8ca6c0" stroke-width="1" fill="none"/>
<path d="M 561.9,326.1 V 347.3 H 506.4" stroke="#496684" stroke-width="1" fill="none"/>
<rect x="510.3" y="329.3" width="46.6" height="14.4" rx="3.6" fill="#bdccdb"/>
<text x="515.12" y="340.2" fill="#000" stroke="#000" textLength="25.38" lengthAdjust="spacing">wahr</text>
<path d="M 548,334.6 h 4.4 l -2.2,3.9 z" fill="#5b80a5"/>
<rect x="574.9" y="323.8" width="40.3" height="14.4" rx="3.6" fill="#bdccdb"/>
<text x="578.82" y="334.8" fill="#000" stroke="#000" textLength="20.85" lengthAdjust="spacing">und</text>
<path d="M 605.8,329.3 h 4.4 l -2.2,3.9 z" fill="#5b80a5"/>
<path d="M 625,320.2 H 982.2 M 625,320.2 V 324.7" stroke="#496684" stroke-width="1" fill="none"/>
<path d="M 625,336.7 V 351.9" stroke="#496684" stroke-width="1" fill="none"/>
<path d="M 624.8,337 c 0,-8 -6.4,6.4 -6.4,-6 s 6.4,2 6.4,-6" stroke="#496684" stroke-width="1" stroke-opacity="0.55" fill="none"/>
<path d="M 625.5,352.4 H 982.7 V 320.7" stroke="#8ca6c0" stroke-width="1" fill="none"/>
<path d="M 625.5,320.7 H 982.2 V 351.9 H 625.5 V 336.7 c 0,-8 -6.4,6.4 -6.4,-6 s 6.4,2 6.4,-6 Z" fill="#5b80a5"/>
<path d="M 626.1,336.7 c 0,-8 -6.4,6.4 -6.4,-6 s 6.4,2 6.4,-6" stroke="#8ca6c0" stroke-width="1" stroke-opacity="0.85" fill="none"/>
<path d="M 626,350.9 V 336.7 M 626,324.7 V 321.2 H 981.2" stroke="#8ca6c0" stroke-width="1" fill="none"/>
<path d="M 981.7,321.2 V 351.4 H 626" stroke="#496684" stroke-width="1" fill="none"/>
<path d="M 638.3,325.1 H 875.3 M 638.3,325.1 V 329.6" stroke="#496684" stroke-width="1" fill="none"/>
<path d="M 638.3,341.6 V 347.8" stroke="#496684" stroke-width="1" fill="none"/>
<path d="M 638.1,341.9 c 0,-8 -6.4,6.4 -6.4,-6 s 6.4,2 6.4,-6" stroke="#496684" stroke-width="1" stroke-opacity="0.55" fill="none"/>
<path d="M 638.8,348.3 H 875.8 V 325.6" stroke="#8ca6c0" stroke-width="1" fill="none"/>
<path d="M 638.8,325.6 H 875.3 V 347.8 H 638.8 V 341.6 c 0,-8 -6.4,6.4 -6.4,-6 s 6.4,2 6.4,-6 Z" fill="#5b80a5"/>
<path d="M 639.4,341.6 c 0,-8 -6.4,6.4 -6.4,-6 s 6.4,2 6.4,-6" stroke="#8ca6c0" stroke-width="1" stroke-opacity="0.85" fill="none"/>
<path d="M 639.3,346.8 V 341.6 M 639.3,329.6 V 326.1 H 874.3" stroke="#8ca6c0" stroke-width="1" fill="none"/>
<path d="M 874.8,326.1 V 347.3 H 639.3" stroke="#496684" stroke-width="1" fill="none"/>
<rect x="642.8" y="329.3" width="47" height="14.4" rx="3.6" fill="#bdccdb"/>
<text x="646.95" y="340.2" fill="#000" stroke="#000" textLength="25.34" lengthAdjust="spacing">Wert</text>
<path d="M 677.8,334.6 h 4.4 l -2.2,3.9 z" fill="#5b80a5"/>
<text x="694.16" y="340.2" fill="#fff" stroke="#fff" textLength="75.62" lengthAdjust="spacing">vom Objekt ID</text>
<rect x="771.6" y="329.3" width="98.9" height="14.4" rx="3.6" fill="#bdccdb"/>
<text x="775.02" y="340.2" fill="#000" stroke="#000" textLength="98.16" lengthAdjust="spacing">Reinigung starten</text>
<rect x="879.1" y="328.7" width="28.3" height="14.4" rx="3.6" fill="#bdccdb"/>
<text x="883.21" y="339.6" fill="#000" stroke="#000" textLength="6.98" lengthAdjust="spacing">=</text>
<path d="M 896,334.1 h 4.4 l -2.2,3.9 z" fill="#5b80a5"/>
<path d="M 916.4,325.1 H 973.4 M 916.4,325.1 V 329.6" stroke="#496684" stroke-width="1" fill="none"/>
<path d="M 916.4,341.6 V 347.8" stroke="#496684" stroke-width="1" fill="none"/>
<path d="M 916.2,341.9 c 0,-8 -6.4,6.4 -6.4,-6 s 6.4,2 6.4,-6" stroke="#496684" stroke-width="1" stroke-opacity="0.55" fill="none"/>
<path d="M 916.9,348.3 H 973.9 V 325.6" stroke="#8ca6c0" stroke-width="1" fill="none"/>
<path d="M 916.9,325.6 H 973.4 V 347.8 H 916.9 V 341.6 c 0,-8 -6.4,6.4 -6.4,-6 s 6.4,2 6.4,-6 Z" fill="#5b80a5"/>
<path d="M 917.5,341.6 c 0,-8 -6.4,6.4 -6.4,-6 s 6.4,2 6.4,-6" stroke="#8ca6c0" stroke-width="1" stroke-opacity="0.85" fill="none"/>
<path d="M 917.4,346.8 V 341.6 M 917.4,329.6 V 326.1 H 972.4" stroke="#8ca6c0" stroke-width="1" fill="none"/>
<path d="M 972.9,326.1 V 347.3 H 917.4" stroke="#496684" stroke-width="1" fill="none"/>
<rect x="921.3" y="329.3" width="46.6" height="14.4" rx="3.6" fill="#bdccdb"/>
<text x="926.12" y="340.2" fill="#000" stroke="#000" textLength="25.38" lengthAdjust="spacing">wahr</text>
<path d="M 959,334.6 h 4.4 l -2.2,3.9 z" fill="#5b80a5"/>
<path d="M 234.3,362.2 a 6.4,6.4 0 0,1 6.4,-6.4 H 246.3 l 4.8,3.2 2.4,0 4.8,-3.2 H 774.1 V 387.1 H 258.3 l -4.8,3.2 -2.4,0 -4.8,-3.2 H 240.7 a 6.4,6.4 0 0,1 -6.4,-6.4 Z" fill="#496684" transform="translate(1,1)"/>
<path d="M 234.3,362.2 a 6.4,6.4 0 0,1 6.4,-6.4 H 246.3 l 4.8,3.2 2.4,0 4.8,-3.2 H 774.1 V 387.1 H 258.3 l -4.8,3.2 -2.4,0 -4.8,-3.2 H 240.7 a 6.4,6.4 0 0,1 -6.4,-6.4 Z" fill="#5b80a5"/>
<path d="M 233.8,364.2 V 362.2 a 6.9,6.9 0 0,1 6.9,-6.9 H 246.3 l 4.8,3.2 2.4,0 4.8,-3.2 H 258.3" stroke="#496684" stroke-width="1" stroke-opacity="0.9" fill="none"/>
<path d="M 234.8,380.7 V 362.2 a 5.9,5.9 0 0,1 5.9,-5.9 H 246.3 l 4.8,3.2 2.4,0 4.8,-3.2 H 773.6" stroke="#8ca6c0" stroke-width="1" stroke-opacity="0.85" fill="none"/>
<text x="242.07" y="375" fill="#fff" stroke="#fff" textLength="41.87" lengthAdjust="spacing">steuere</text>
<rect x="285.8" y="364.1" width="280" height="14.4" rx="3.6" fill="#bdccdb"/>
<text x="289.96" y="375" fill="#000" stroke="#000" textLength="275.34" lengthAdjust="spacing">Start cleaning multiple spot areas (comma-separa</text>
<text x="565.9" y="375" fill="#000" fill-opacity="0.75" font-size="11">…</text>
<text x="570.1" y="375" fill="#fff" stroke="#fff" textLength="16.88" lengthAdjust="spacing">mit</text>
<path d="M 598.3,360.1 H 661.1 M 598.3,360.1 V 364.6" stroke="#496684" stroke-width="1" fill="none"/>
<path d="M 598.3,376.6 V 383.2" stroke="#496684" stroke-width="1" fill="none"/>
<path d="M 598.1,376.9 c 0,-8 -6.4,6.4 -6.4,-6 s 6.4,2 6.4,-6" stroke="#496684" stroke-width="1" stroke-opacity="0.55" fill="none"/>
<path d="M 598.8,383.7 H 661.6 V 360.6" stroke="#8ca6c0" stroke-width="1" fill="none"/>
<path d="M 598.8,360.6 H 661.1 V 383.2 H 598.8 V 376.6 c 0,-8 -6.4,6.4 -6.4,-6 s 6.4,2 6.4,-6 Z" fill="#5ba58c"/>
<path d="M 599.4,376.6 c 0,-8 -6.4,6.4 -6.4,-6 s 6.4,2 6.4,-6" stroke="#8cc0ae" stroke-width="1" stroke-opacity="0.85" fill="none"/>
<path d="M 599.3,382.2 V 376.6 M 599.3,364.6 V 361.1 H 660.1" stroke="#8cc0ae" stroke-width="1" fill="none"/>
<path d="M 660.6,361.1 V 382.7 H 599.3" stroke="#498470" stroke-width="1" fill="none"/>
<text x="607.2" y="380.2" fill="#fff" font-size="21" font-weight="bold" font-family="Liberation Serif, serif">“</text>
<rect x="621.1" y="364.9" width="17.5" height="14.4" rx="3.6" fill="#bddbd1"/>
<text x="625.4" y="376.2" fill="#000" stroke="#000">7,</text>
<text x="641.5" y="380.2" fill="#fff" font-size="21" font-weight="bold" font-family="Liberation Serif, serif">”</text>
<text x="668.8" y="375" fill="#fff" stroke="#fff" textLength="88.07" lengthAdjust="spacing">mit Verzögerung</text>
<rect x="757.9" y="363.9" width="12" height="14" rx="3.2" fill="#bdccdb"/>
<path d="M 258.3,390.2 H 1017.1 V 430.2 H 258.3 V 406.2 c 0,-8 -6.4,6.4 -6.4,-6 s 6.4,2 6.4,-6 Z" fill="#496684" transform="translate(1,1)"/>
<path d="M 258.3,390.2 H 1017.1 V 430.2 H 258.3 V 406.2 c 0,-8 -6.4,6.4 -6.4,-6 s 6.4,2 6.4,-6 Z" fill="#5b80a5"/>
<path d="M 258.3,390.7 H 1016.1 M 258.8,390.7 V 394.2 M 258.8,406.2 V 429.7" stroke="#8ca6c0" stroke-width="1" stroke-opacity="0.8" fill="none"/>
<path d="M 257.6,406.5 c 0,-8 -6.4,6.4 -6.4,-6 s 6.4,2 6.4,-6" stroke="#496684" stroke-width="1" stroke-opacity="0.55" fill="none"/>
<path d="M 258.9,406.2 c 0,-8 -6.4,6.4 -6.4,-6 s 6.4,2 6.4,-6" stroke="#8ca6c0" stroke-width="1" stroke-opacity="0.85" fill="none"/>
<path d="M 271.5,394.7 H 598.3 M 271.5,394.7 V 399.2" stroke="#496684" stroke-width="1" fill="none"/>
<path d="M 271.5,411.2 V 426.4" stroke="#496684" stroke-width="1" fill="none"/>
<path d="M 271.3,411.5 c 0,-8 -6.4,6.4 -6.4,-6 s 6.4,2 6.4,-6" stroke="#496684" stroke-width="1" stroke-opacity="0.55" fill="none"/>
<path d="M 272,426.9 H 598.8 V 395.2" stroke="#8ca6c0" stroke-width="1" fill="none"/>
<path d="M 272,395.2 H 598.3 V 426.4 H 272 V 411.2 c 0,-8 -6.4,6.4 -6.4,-6 s 6.4,2 6.4,-6 Z" fill="#5b80a5"/>
<path d="M 272.6,411.2 c 0,-8 -6.4,6.4 -6.4,-6 s 6.4,2 6.4,-6" stroke="#8ca6c0" stroke-width="1" stroke-opacity="0.85" fill="none"/>
<path d="M 272.5,425.4 V 411.2 M 272.5,399.2 V 395.7 H 597.3" stroke="#8ca6c0" stroke-width="1" fill="none"/>
<path d="M 597.8,395.7 V 425.9 H 272.5" stroke="#496684" stroke-width="1" fill="none"/>
<path d="M 284.8,399.6 H 491.4 M 284.8,399.6 V 404.1" stroke="#496684" stroke-width="1" fill="none"/>
<path d="M 284.8,416.1 V 422.3" stroke="#496684" stroke-width="1" fill="none"/>
<path d="M 284.6,416.4 c 0,-8 -6.4,6.4 -6.4,-6 s 6.4,2 6.4,-6" stroke="#496684" stroke-width="1" stroke-opacity="0.55" fill="none"/>
<path d="M 285.3,422.8 H 491.9 V 400.1" stroke="#8ca6c0" stroke-width="1" fill="none"/>
<path d="M 285.3,400.1 H 491.4 V 422.3 H 285.3 V 416.1 c 0,-8 -6.4,6.4 -6.4,-6 s 6.4,2 6.4,-6 Z" fill="#5b80a5"/>
<path d="M 285.9,416.1 c 0,-8 -6.4,6.4 -6.4,-6 s 6.4,2 6.4,-6" stroke="#8ca6c0" stroke-width="1" stroke-opacity="0.85" fill="none"/>
<path d="M 285.8,421.3 V 416.1 M 285.8,404.1 V 400.6 H 490.4" stroke="#8ca6c0" stroke-width="1" fill="none"/>
<path d="M 490.9,400.6 V 421.8 H 285.8" stroke="#496684" stroke-width="1" fill="none"/>
<rect x="289.3" y="403.8" width="47" height="14.4" rx="3.6" fill="#bdccdb"/>
<text x="293.45" y="414.7" fill="#000" stroke="#000" textLength="25.34" lengthAdjust="spacing">Wert</text>
<path d="M 324.3,409.1 h 4.4 l -2.2,3.9 z" fill="#5b80a5"/>
<text x="340.66" y="414.7" fill="#fff" stroke="#fff" textLength="75.62" lengthAdjust="spacing">vom Objekt ID</text>
<rect x="418.1" y="403.8" width="68.5" height="14.4" rx="3.6" fill="#bdccdb"/>
<text x="421.52" y="414.7" fill="#000" stroke="#000" textLength="62.88" lengthAdjust="spacing">Esszimmer</text>
<rect x="495.2" y="403.2" width="28.3" height="14.4" rx="3.6" fill="#bdccdb"/>
<text x="499.31" y="414.1" fill="#000" stroke="#000" textLength="6.98" lengthAdjust="spacing">=</text>
<path d="M 512.1,408.6 h 4.4 l -2.2,3.9 z" fill="#5b80a5"/>
<path d="M 532.5,399.6 H 589.5 M 532.5,399.6 V 404.1" stroke="#496684" stroke-width="1" fill="none"/>
<path d="M 532.5,416.1 V 422.3" stroke="#496684" stroke-width="1" fill="none"/>
<path d="M 532.3,416.4 c 0,-8 -6.4,6.4 -6.4,-6 s 6.4,2 6.4,-6" stroke="#496684" stroke-width="1" stroke-opacity="0.55" fill="none"/>
<path d="M 533,422.8 H 590 V 400.1" stroke="#8ca6c0" stroke-width="1" fill="none"/>
<path d="M 533,400.1 H 589.5 V 422.3 H 533 V 416.1 c 0,-8 -6.4,6.4 -6.4,-6 s 6.4,2 6.4,-6 Z" fill="#5b80a5"/>
<path d="M 533.6,416.1 c 0,-8 -6.4,6.4 -6.4,-6 s 6.4,2 6.4,-6" stroke="#8ca6c0" stroke-width="1" stroke-opacity="0.85" fill="none"/>
<path d="M 533.5,421.3 V 416.1 M 533.5,404.1 V 400.6 H 588.5" stroke="#8ca6c0" stroke-width="1" fill="none"/>
<path d="M 589,400.6 V 421.8 H 533.5" stroke="#496684" stroke-width="1" fill="none"/>
<rect x="537.4" y="403.8" width="46.6" height="14.4" rx="3.6" fill="#bdccdb"/>
<text x="542.22" y="414.7" fill="#000" stroke="#000" textLength="25.38" lengthAdjust="spacing">wahr</text>
<path d="M 575.1,409.1 h 4.4 l -2.2,3.9 z" fill="#5b80a5"/>
<rect x="602" y="398.3" width="40.3" height="14.4" rx="3.6" fill="#bdccdb"/>
<text x="605.92" y="409.3" fill="#000" stroke="#000" textLength="20.85" lengthAdjust="spacing">und</text>
<path d="M 632.9,403.8 h 4.4 l -2.2,3.9 z" fill="#5b80a5"/>
<path d="M 652.1,394.7 H 1009.3 M 652.1,394.7 V 399.2" stroke="#496684" stroke-width="1" fill="none"/>
<path d="M 652.1,411.2 V 426.4" stroke="#496684" stroke-width="1" fill="none"/>
<path d="M 651.9,411.5 c 0,-8 -6.4,6.4 -6.4,-6 s 6.4,2 6.4,-6" stroke="#496684" stroke-width="1" stroke-opacity="0.55" fill="none"/>
<path d="M 652.6,426.9 H 1009.8 V 395.2" stroke="#8ca6c0" stroke-width="1" fill="none"/>
<path d="M 652.6,395.2 H 1009.3 V 426.4 H 652.6 V 411.2 c 0,-8 -6.4,6.4 -6.4,-6 s 6.4,2 6.4,-6 Z" fill="#5b80a5"/>
<path d="M 653.2,411.2 c 0,-8 -6.4,6.4 -6.4,-6 s 6.4,2 6.4,-6" stroke="#8ca6c0" stroke-width="1" stroke-opacity="0.85" fill="none"/>
<path d="M 653.1,425.4 V 411.2 M 653.1,399.2 V 395.7 H 1008.3" stroke="#8ca6c0" stroke-width="1" fill="none"/>
<path d="M 1008.8,395.7 V 425.9 H 653.1" stroke="#496684" stroke-width="1" fill="none"/>
<path d="M 665.4,399.6 H 902.4 M 665.4,399.6 V 404.1" stroke="#496684" stroke-width="1" fill="none"/>
<path d="M 665.4,416.1 V 422.3" stroke="#496684" stroke-width="1" fill="none"/>
<path d="M 665.2,416.4 c 0,-8 -6.4,6.4 -6.4,-6 s 6.4,2 6.4,-6" stroke="#496684" stroke-width="1" stroke-opacity="0.55" fill="none"/>
<path d="M 665.9,422.8 H 902.9 V 400.1" stroke="#8ca6c0" stroke-width="1" fill="none"/>
<path d="M 665.9,400.1 H 902.4 V 422.3 H 665.9 V 416.1 c 0,-8 -6.4,6.4 -6.4,-6 s 6.4,2 6.4,-6 Z" fill="#5b80a5"/>
<path d="M 666.5,416.1 c 0,-8 -6.4,6.4 -6.4,-6 s 6.4,2 6.4,-6" stroke="#8ca6c0" stroke-width="1" stroke-opacity="0.85" fill="none"/>
<path d="M 666.4,421.3 V 416.1 M 666.4,404.1 V 400.6 H 901.4" stroke="#8ca6c0" stroke-width="1" fill="none"/>
<path d="M 901.9,400.6 V 421.8 H 666.4" stroke="#496684" stroke-width="1" fill="none"/>
<rect x="669.9" y="403.8" width="47" height="14.4" rx="3.6" fill="#bdccdb"/>
<text x="674.05" y="414.7" fill="#000" stroke="#000" textLength="25.34" lengthAdjust="spacing">Wert</text>
<path d="M 704.9,409.1 h 4.4 l -2.2,3.9 z" fill="#5b80a5"/>
<text x="721.26" y="414.7" fill="#fff" stroke="#fff" textLength="75.62" lengthAdjust="spacing">vom Objekt ID</text>
<rect x="798.7" y="403.8" width="98.9" height="14.4" rx="3.6" fill="#bdccdb"/>
<text x="802.12" y="414.7" fill="#000" stroke="#000" textLength="98.16" lengthAdjust="spacing">Reinigung starten</text>
<rect x="906.2" y="403.2" width="28.3" height="14.4" rx="3.6" fill="#bdccdb"/>
<text x="910.31" y="414.1" fill="#000" stroke="#000" textLength="6.98" lengthAdjust="spacing">=</text>
<path d="M 923.1,408.6 h 4.4 l -2.2,3.9 z" fill="#5b80a5"/>
<path d="M 943.5,399.6 H 1000.5 M 943.5,399.6 V 404.1" stroke="#496684" stroke-width="1" fill="none"/>
<path d="M 943.5,416.1 V 422.3" stroke="#496684" stroke-width="1" fill="none"/>
<path d="M 943.3,416.4 c 0,-8 -6.4,6.4 -6.4,-6 s 6.4,2 6.4,-6" stroke="#496684" stroke-width="1" stroke-opacity="0.55" fill="none"/>
<path d="M 944,422.8 H 1001 V 400.1" stroke="#8ca6c0" stroke-width="1" fill="none"/>
<path d="M 944,400.1 H 1000.5 V 422.3 H 944 V 416.1 c 0,-8 -6.4,6.4 -6.4,-6 s 6.4,2 6.4,-6 Z" fill="#5b80a5"/>
<path d="M 944.6,416.1 c 0,-8 -6.4,6.4 -6.4,-6 s 6.4,2 6.4,-6" stroke="#8ca6c0" stroke-width="1" stroke-opacity="0.85" fill="none"/>
<path d="M 944.5,421.3 V 416.1 M 944.5,404.1 V 400.6 H 999.5" stroke="#8ca6c0" stroke-width="1" fill="none"/>
<path d="M 1000,400.6 V 421.8 H 944.5" stroke="#496684" stroke-width="1" fill="none"/>
<rect x="948.4" y="403.8" width="46.6" height="14.4" rx="3.6" fill="#bdccdb"/>
<text x="953.22" y="414.7" fill="#000" stroke="#000" textLength="25.38" lengthAdjust="spacing">wahr</text>
<path d="M 986.1,409.1 h 4.4 l -2.2,3.9 z" fill="#5b80a5"/>
<path d="M 234.3,436.7 a 6.4,6.4 0 0,1 6.4,-6.4 H 246.3 l 4.8,3.2 2.4,0 4.8,-3.2 H 774.1 V 461.6 H 258.3 l -4.8,3.2 -2.4,0 -4.8,-3.2 H 240.7 a 6.4,6.4 0 0,1 -6.4,-6.4 Z" fill="#496684" transform="translate(1,1)"/>
<path d="M 234.3,436.7 a 6.4,6.4 0 0,1 6.4,-6.4 H 246.3 l 4.8,3.2 2.4,0 4.8,-3.2 H 774.1 V 461.6 H 258.3 l -4.8,3.2 -2.4,0 -4.8,-3.2 H 240.7 a 6.4,6.4 0 0,1 -6.4,-6.4 Z" fill="#5b80a5"/>
<path d="M 233.8,438.7 V 436.7 a 6.9,6.9 0 0,1 6.9,-6.9 H 246.3 l 4.8,3.2 2.4,0 4.8,-3.2 H 258.3" stroke="#496684" stroke-width="1" stroke-opacity="0.9" fill="none"/>
<path d="M 234.8,455.2 V 436.7 a 5.9,5.9 0 0,1 5.9,-5.9 H 246.3 l 4.8,3.2 2.4,0 4.8,-3.2 H 773.6" stroke="#8ca6c0" stroke-width="1" stroke-opacity="0.85" fill="none"/>
<text x="242.07" y="449.5" fill="#fff" stroke="#fff" textLength="41.87" lengthAdjust="spacing">steuere</text>
<rect x="285.8" y="438.6" width="280" height="14.4" rx="3.6" fill="#bdccdb"/>
<text x="289.96" y="449.5" fill="#000" stroke="#000" textLength="275.34" lengthAdjust="spacing">Start cleaning multiple spot areas (comma-separa</text>
<text x="565.9" y="449.5" fill="#000" fill-opacity="0.75" font-size="11">…</text>
<text x="570.1" y="449.5" fill="#fff" stroke="#fff" textLength="16.88" lengthAdjust="spacing">mit</text>
<path d="M 598.3,434.6 H 661.1 M 598.3,434.6 V 439.1" stroke="#496684" stroke-width="1" fill="none"/>
<path d="M 598.3,451.1 V 457.7" stroke="#496684" stroke-width="1" fill="none"/>
<path d="M 598.1,451.4 c 0,-8 -6.4,6.4 -6.4,-6 s 6.4,2 6.4,-6" stroke="#496684" stroke-width="1" stroke-opacity="0.55" fill="none"/>
<path d="M 598.8,458.2 H 661.6 V 435.1" stroke="#8ca6c0" stroke-width="1" fill="none"/>
<path d="M 598.8,435.1 H 661.1 V 457.7 H 598.8 V 451.1 c 0,-8 -6.4,6.4 -6.4,-6 s 6.4,2 6.4,-6 Z" fill="#5ba58c"/>
<path d="M 599.4,451.1 c 0,-8 -6.4,6.4 -6.4,-6 s 6.4,2 6.4,-6" stroke="#8cc0ae" stroke-width="1" stroke-opacity="0.85" fill="none"/>
<path d="M 599.3,456.7 V 451.1 M 599.3,439.1 V 435.6 H 660.1" stroke="#8cc0ae" stroke-width="1" fill="none"/>
<path d="M 660.6,435.6 V 457.2 H 599.3" stroke="#498470" stroke-width="1" fill="none"/>
<text x="607.2" y="454.7" fill="#fff" font-size="21" font-weight="bold" font-family="Liberation Serif, serif">“</text>
<rect x="621.1" y="439.4" width="17.5" height="14.4" rx="3.6" fill="#bddbd1"/>
<text x="625.4" y="450.7" fill="#000" stroke="#000">5,</text>
<text x="641.5" y="454.7" fill="#fff" font-size="21" font-weight="bold" font-family="Liberation Serif, serif">”</text>
<text x="668.8" y="449.5" fill="#fff" stroke="#fff" textLength="88.07" lengthAdjust="spacing">mit Verzögerung</text>
<rect x="757.9" y="438.4" width="12" height="14" rx="3.2" fill="#bdccdb"/>
<path d="M 258.3,464.7 H 1027.6 V 504.7 H 258.3 V 480.7 c 0,-8 -6.4,6.4 -6.4,-6 s 6.4,2 6.4,-6 Z" fill="#496684" transform="translate(1,1)"/>
<path d="M 258.3,464.7 H 1027.6 V 504.7 H 258.3 V 480.7 c 0,-8 -6.4,6.4 -6.4,-6 s 6.4,2 6.4,-6 Z" fill="#5b80a5"/>
<path d="M 258.3,465.2 H 1026.6 M 258.8,465.2 V 468.7 M 258.8,480.7 V 504.2" stroke="#8ca6c0" stroke-width="1" stroke-opacity="0.8" fill="none"/>
<path d="M 257.6,481 c 0,-8 -6.4,6.4 -6.4,-6 s 6.4,2 6.4,-6" stroke="#496684" stroke-width="1" stroke-opacity="0.55" fill="none"/>
<path d="M 258.9,480.7 c 0,-8 -6.4,6.4 -6.4,-6 s 6.4,2 6.4,-6" stroke="#8ca6c0" stroke-width="1" stroke-opacity="0.85" fill="none"/>
<path d="M 271.5,469.2 H 608.8 M 271.5,469.2 V 473.7" stroke="#496684" stroke-width="1" fill="none"/>
<path d="M 271.5,485.7 V 500.9" stroke="#496684" stroke-width="1" fill="none"/>
<path d="M 271.3,486 c 0,-8 -6.4,6.4 -6.4,-6 s 6.4,2 6.4,-6" stroke="#496684" stroke-width="1" stroke-opacity="0.55" fill="none"/>
<path d="M 272,501.4 H 609.3 V 469.7" stroke="#8ca6c0" stroke-width="1" fill="none"/>
<path d="M 272,469.7 H 608.8 V 500.9 H 272 V 485.7 c 0,-8 -6.4,6.4 -6.4,-6 s 6.4,2 6.4,-6 Z" fill="#5b80a5"/>
<path d="M 272.6,485.7 c 0,-8 -6.4,6.4 -6.4,-6 s 6.4,2 6.4,-6" stroke="#8ca6c0" stroke-width="1" stroke-opacity="0.85" fill="none"/>
<path d="M 272.5,499.9 V 485.7 M 272.5,473.7 V 470.2 H 607.8" stroke="#8ca6c0" stroke-width="1" fill="none"/>
<path d="M 608.3,470.2 V 500.4 H 272.5" stroke="#496684" stroke-width="1" fill="none"/>
<path d="M 284.8,474.1 H 501.9 M 284.8,474.1 V 478.6" stroke="#496684" stroke-width="1" fill="none"/>
<path d="M 284.8,490.6 V 496.8" stroke="#496684" stroke-width="1" fill="none"/>
<path d="M 284.6,490.9 c 0,-8 -6.4,6.4 -6.4,-6 s 6.4,2 6.4,-6" stroke="#496684" stroke-width="1" stroke-opacity="0.55" fill="none"/>
<path d="M 285.3,497.3 H 502.4 V 474.6" stroke="#8ca6c0" stroke-width="1" fill="none"/>
<path d="M 285.3,474.6 H 501.9 V 496.8 H 285.3 V 490.6 c 0,-8 -6.4,6.4 -6.4,-6 s 6.4,2 6.4,-6 Z" fill="#5b80a5"/>
<path d="M 285.9,490.6 c 0,-8 -6.4,6.4 -6.4,-6 s 6.4,2 6.4,-6" stroke="#8ca6c0" stroke-width="1" stroke-opacity="0.85" fill="none"/>
<path d="M 285.8,495.8 V 490.6 M 285.8,478.6 V 475.1 H 500.9" stroke="#8ca6c0" stroke-width="1" fill="none"/>
<path d="M 501.4,475.1 V 496.3 H 285.8" stroke="#496684" stroke-width="1" fill="none"/>
<rect x="289.3" y="478.3" width="47" height="14.4" rx="3.6" fill="#bdccdb"/>
<text x="293.45" y="489.2" fill="#000" stroke="#000" textLength="25.34" lengthAdjust="spacing">Wert</text>
<path d="M 324.3,483.6 h 4.4 l -2.2,3.9 z" fill="#5b80a5"/>
<text x="340.66" y="489.2" fill="#fff" stroke="#fff" textLength="75.62" lengthAdjust="spacing">vom Objekt ID</text>
<rect x="418.1" y="478.3" width="79" height="14.4" rx="3.6" fill="#bdccdb"/>
<text x="422.45" y="489.2" fill="#000" stroke="#000" textLength="72.85" lengthAdjust="spacing">Wohnzimmer</text>
<rect x="505.7" y="477.7" width="28.3" height="14.4" rx="3.6" fill="#bdccdb"/>
<text x="509.81" y="488.6" fill="#000" stroke="#000" textLength="6.98" lengthAdjust="spacing">=</text>
<path d="M 522.6,483.1 h 4.4 l -2.2,3.9 z" fill="#5b80a5"/>
<path d="M 543,474.1 H 600 M 543,474.1 V 478.6" stroke="#496684" stroke-width="1" fill="none"/>
<path d="M 543,490.6 V 496.8" stroke="#496684" stroke-width="1" fill="none"/>
<path d="M 542.8,490.9 c 0,-8 -6.4,6.4 -6.4,-6 s 6.4,2 6.4,-6" stroke="#496684" stroke-width="1" stroke-opacity="0.55" fill="none"/>
<path d="M 543.5,497.3 H 600.5 V 474.6" stroke="#8ca6c0" stroke-width="1" fill="none"/>
<path d="M 543.5,474.6 H 600 V 496.8 H 543.5 V 490.6 c 0,-8 -6.4,6.4 -6.4,-6 s 6.4,2 6.4,-6 Z" fill="#5b80a5"/>
<path d="M 544.1,490.6 c 0,-8 -6.4,6.4 -6.4,-6 s 6.4,2 6.4,-6" stroke="#8ca6c0" stroke-width="1" stroke-opacity="0.85" fill="none"/>
<path d="M 544,495.8 V 490.6 M 544,478.6 V 475.1 H 599" stroke="#8ca6c0" stroke-width="1" fill="none"/>
<path d="M 599.5,475.1 V 496.3 H 544" stroke="#496684" stroke-width="1" fill="none"/>
<rect x="547.9" y="478.3" width="46.6" height="14.4" rx="3.6" fill="#bdccdb"/>
<text x="552.72" y="489.2" fill="#000" stroke="#000" textLength="25.38" lengthAdjust="spacing">wahr</text>
<path d="M 585.6,483.6 h 4.4 l -2.2,3.9 z" fill="#5b80a5"/>
<rect x="612.5" y="472.8" width="40.3" height="14.4" rx="3.6" fill="#bdccdb"/>
<text x="616.42" y="483.8" fill="#000" stroke="#000" textLength="20.85" lengthAdjust="spacing">und</text>
<path d="M 643.4,478.3 h 4.4 l -2.2,3.9 z" fill="#5b80a5"/>
<path d="M 662.6,469.2 H 1019.8 M 662.6,469.2 V 473.7" stroke="#496684" stroke-width="1" fill="none"/>
<path d="M 662.6,485.7 V 500.9" stroke="#496684" stroke-width="1" fill="none"/>
<path d="M 662.4,486 c 0,-8 -6.4,6.4 -6.4,-6 s 6.4,2 6.4,-6" stroke="#496684" stroke-width="1" stroke-opacity="0.55" fill="none"/>
<path d="M 663.1,501.4 H 1020.3 V 469.7" stroke="#8ca6c0" stroke-width="1" fill="none"/>
<path d="M 663.1,469.7 H 1019.8 V 500.9 H 663.1 V 485.7 c 0,-8 -6.4,6.4 -6.4,-6 s 6.4,2 6.4,-6 Z" fill="#5b80a5"/>
<path d="M 663.7,485.7 c 0,-8 -6.4,6.4 -6.4,-6 s 6.4,2 6.4,-6" stroke="#8ca6c0" stroke-width="1" stroke-opacity="0.85" fill="none"/>
<path d="M 663.6,499.9 V 485.7 M 663.6,473.7 V 470.2 H 1018.8" stroke="#8ca6c0" stroke-width="1" fill="none"/>
<path d="M 1019.3,470.2 V 500.4 H 663.6" stroke="#496684" stroke-width="1" fill="none"/>
<path d="M 675.9,474.1 H 912.9 M 675.9,474.1 V 478.6" stroke="#496684" stroke-width="1" fill="none"/>
<path d="M 675.9,490.6 V 496.8" stroke="#496684" stroke-width="1" fill="none"/>
<path d="M 675.7,490.9 c 0,-8 -6.4,6.4 -6.4,-6 s 6.4,2 6.4,-6" stroke="#496684" stroke-width="1" stroke-opacity="0.55" fill="none"/>
<path d="M 676.4,497.3 H 913.4 V 474.6" stroke="#8ca6c0" stroke-width="1" fill="none"/>
<path d="M 676.4,474.6 H 912.9 V 496.8 H 676.4 V 490.6 c 0,-8 -6.4,6.4 -6.4,-6 s 6.4,2 6.4,-6 Z" fill="#5b80a5"/>
<path d="M 677,490.6 c 0,-8 -6.4,6.4 -6.4,-6 s 6.4,2 6.4,-6" stroke="#8ca6c0" stroke-width="1" stroke-opacity="0.85" fill="none"/>
<path d="M 676.9,495.8 V 490.6 M 676.9,478.6 V 475.1 H 911.9" stroke="#8ca6c0" stroke-width="1" fill="none"/>
<path d="M 912.4,475.1 V 496.3 H 676.9" stroke="#496684" stroke-width="1" fill="none"/>
<rect x="680.4" y="478.3" width="47" height="14.4" rx="3.6" fill="#bdccdb"/>
<text x="684.55" y="489.2" fill="#000" stroke="#000" textLength="25.34" lengthAdjust="spacing">Wert</text>
<path d="M 715.4,483.6 h 4.4 l -2.2,3.9 z" fill="#5b80a5"/>
<text x="731.76" y="489.2" fill="#fff" stroke="#fff" textLength="75.62" lengthAdjust="spacing">vom Objekt ID</text>
<rect x="809.2" y="478.3" width="98.9" height="14.4" rx="3.6" fill="#bdccdb"/>
<text x="812.62" y="489.2" fill="#000" stroke="#000" textLength="98.16" lengthAdjust="spacing">Reinigung starten</text>
<rect x="916.7" y="477.7" width="28.3" height="14.4" rx="3.6" fill="#bdccdb"/>
<text x="920.81" y="488.6" fill="#000" stroke="#000" textLength="6.98" lengthAdjust="spacing">=</text>
<path d="M 933.6,483.1 h 4.4 l -2.2,3.9 z" fill="#5b80a5"/>
<path d="M 954,474.1 H 1011 M 954,474.1 V 478.6" stroke="#496684" stroke-width="1" fill="none"/>
<path d="M 954,490.6 V 496.8" stroke="#496684" stroke-width="1" fill="none"/>
<path d="M 953.8,490.9 c 0,-8 -6.4,6.4 -6.4,-6 s 6.4,2 6.4,-6" stroke="#496684" stroke-width="1" stroke-opacity="0.55" fill="none"/>
<path d="M 954.5,497.3 H 1011.5 V 474.6" stroke="#8ca6c0" stroke-width="1" fill="none"/>
<path d="M 954.5,474.6 H 1011 V 496.8 H 954.5 V 490.6 c 0,-8 -6.4,6.4 -6.4,-6 s 6.4,2 6.4,-6 Z" fill="#5b80a5"/>
<path d="M 955.1,490.6 c 0,-8 -6.4,6.4 -6.4,-6 s 6.4,2 6.4,-6" stroke="#8ca6c0" stroke-width="1" stroke-opacity="0.85" fill="none"/>
<path d="M 955,495.8 V 490.6 M 955,478.6 V 475.1 H 1010" stroke="#8ca6c0" stroke-width="1" fill="none"/>
<path d="M 1010.5,475.1 V 496.3 H 955" stroke="#496684" stroke-width="1" fill="none"/>
<rect x="958.9" y="478.3" width="46.6" height="14.4" rx="3.6" fill="#bdccdb"/>
<text x="963.72" y="489.2" fill="#000" stroke="#000" textLength="25.38" lengthAdjust="spacing">wahr</text>
<path d="M 996.6,483.6 h 4.4 l -2.2,3.9 z" fill="#5b80a5"/>
<path d="M 234.3,511.2 a 6.4,6.4 0 0,1 6.4,-6.4 H 246.3 l 4.8,3.2 2.4,0 4.8,-3.2 H 774.1 V 536.1 H 258.3 l -4.8,3.2 -2.4,0 -4.8,-3.2 H 240.7 a 6.4,6.4 0 0,1 -6.4,-6.4 Z" fill="#496684" transform="translate(1,1)"/>
<path d="M 234.3,511.2 a 6.4,6.4 0 0,1 6.4,-6.4 H 246.3 l 4.8,3.2 2.4,0 4.8,-3.2 H 774.1 V 536.1 H 258.3 l -4.8,3.2 -2.4,0 -4.8,-3.2 H 240.7 a 6.4,6.4 0 0,1 -6.4,-6.4 Z" fill="#5b80a5"/>
<path d="M 233.8,513.2 V 511.2 a 6.9,6.9 0 0,1 6.9,-6.9 H 246.3 l 4.8,3.2 2.4,0 4.8,-3.2 H 258.3" stroke="#496684" stroke-width="1" stroke-opacity="0.9" fill="none"/>
<path d="M 234.8,529.7 V 511.2 a 5.9,5.9 0 0,1 5.9,-5.9 H 246.3 l 4.8,3.2 2.4,0 4.8,-3.2 H 773.6" stroke="#8ca6c0" stroke-width="1" stroke-opacity="0.85" fill="none"/>
<text x="242.07" y="524" fill="#fff" stroke="#fff" textLength="41.87" lengthAdjust="spacing">steuere</text>
<rect x="285.8" y="513.1" width="280" height="14.4" rx="3.6" fill="#bdccdb"/>
<text x="289.96" y="524" fill="#000" stroke="#000" textLength="275.34" lengthAdjust="spacing">Start cleaning multiple spot areas (comma-separa</text>
<text x="565.9" y="524" fill="#000" fill-opacity="0.75" font-size="11">…</text>
<text x="570.1" y="524" fill="#fff" stroke="#fff" textLength="16.88" lengthAdjust="spacing">mit</text>
<path d="M 598.3,509.1 H 661.1 M 598.3,509.1 V 513.6" stroke="#496684" stroke-width="1" fill="none"/>
<path d="M 598.3,525.6 V 532.2" stroke="#496684" stroke-width="1" fill="none"/>
<path d="M 598.1,525.9 c 0,-8 -6.4,6.4 -6.4,-6 s 6.4,2 6.4,-6" stroke="#496684" stroke-width="1" stroke-opacity="0.55" fill="none"/>
<path d="M 598.8,532.7 H 661.6 V 509.6" stroke="#8ca6c0" stroke-width="1" fill="none"/>
<path d="M 598.8,509.6 H 661.1 V 532.2 H 598.8 V 525.6 c 0,-8 -6.4,6.4 -6.4,-6 s 6.4,2 6.4,-6 Z" fill="#5ba58c"/>
<path d="M 599.4,525.6 c 0,-8 -6.4,6.4 -6.4,-6 s 6.4,2 6.4,-6" stroke="#8cc0ae" stroke-width="1" stroke-opacity="0.85" fill="none"/>
<path d="M 599.3,531.2 V 525.6 M 599.3,513.6 V 510.1 H 660.1" stroke="#8cc0ae" stroke-width="1" fill="none"/>
<path d="M 660.6,510.1 V 531.7 H 599.3" stroke="#498470" stroke-width="1" fill="none"/>
<text x="607.2" y="529.2" fill="#fff" font-size="21" font-weight="bold" font-family="Liberation Serif, serif">“</text>
<rect x="621.1" y="513.9" width="17.5" height="14.4" rx="3.6" fill="#bddbd1"/>
<text x="625.4" y="525.2" fill="#000" stroke="#000">6,</text>
<text x="641.5" y="529.2" fill="#fff" font-size="21" font-weight="bold" font-family="Liberation Serif, serif">”</text>
<text x="668.8" y="524" fill="#fff" stroke="#fff" textLength="88.07" lengthAdjust="spacing">mit Verzögerung</text>
<rect x="757.9" y="512.9" width="12" height="14" rx="3.2" fill="#bdccdb"/>
<path d="M 258.3,539.2 H 985.3 V 579.2 H 258.3 V 555.2 c 0,-8 -6.4,6.4 -6.4,-6 s 6.4,2 6.4,-6 Z" fill="#496684" transform="translate(1,1)"/>
<path d="M 258.3,539.2 H 985.3 V 579.2 H 258.3 V 555.2 c 0,-8 -6.4,6.4 -6.4,-6 s 6.4,2 6.4,-6 Z" fill="#5b80a5"/>
<path d="M 258.3,539.7 H 984.3 M 258.8,539.7 V 543.2 M 258.8,555.2 V 578.7" stroke="#8ca6c0" stroke-width="1" stroke-opacity="0.8" fill="none"/>
<path d="M 257.6,555.5 c 0,-8 -6.4,6.4 -6.4,-6 s 6.4,2 6.4,-6" stroke="#496684" stroke-width="1" stroke-opacity="0.55" fill="none"/>
<path d="M 258.9,555.2 c 0,-8 -6.4,6.4 -6.4,-6 s 6.4,2 6.4,-6" stroke="#8ca6c0" stroke-width="1" stroke-opacity="0.85" fill="none"/>
<path d="M 271.5,543.7 H 566.5 M 271.5,543.7 V 548.2" stroke="#496684" stroke-width="1" fill="none"/>
<path d="M 271.5,560.2 V 575.4" stroke="#496684" stroke-width="1" fill="none"/>
<path d="M 271.3,560.5 c 0,-8 -6.4,6.4 -6.4,-6 s 6.4,2 6.4,-6" stroke="#496684" stroke-width="1" stroke-opacity="0.55" fill="none"/>
<path d="M 272,575.9 H 567 V 544.2" stroke="#8ca6c0" stroke-width="1" fill="none"/>
<path d="M 272,544.2 H 566.5 V 575.4 H 272 V 560.2 c 0,-8 -6.4,6.4 -6.4,-6 s 6.4,2 6.4,-6 Z" fill="#5b80a5"/>
<path d="M 272.6,560.2 c 0,-8 -6.4,6.4 -6.4,-6 s 6.4,2 6.4,-6" stroke="#8ca6c0" stroke-width="1" stroke-opacity="0.85" fill="none"/>
<path d="M 272.5,574.4 V 560.2 M 272.5,548.2 V 544.7 H 565.5" stroke="#8ca6c0" stroke-width="1" fill="none"/>
<path d="M 566,544.7 V 574.9 H 272.5" stroke="#496684" stroke-width="1" fill="none"/>
<path d="M 284.8,548.6 H 459.6 M 284.8,548.6 V 553.1" stroke="#496684" stroke-width="1" fill="none"/>
<path d="M 284.8,565.1 V 571.3" stroke="#496684" stroke-width="1" fill="none"/>
<path d="M 284.6,565.4 c 0,-8 -6.4,6.4 -6.4,-6 s 6.4,2 6.4,-6" stroke="#496684" stroke-width="1" stroke-opacity="0.55" fill="none"/>
<path d="M 285.3,571.8 H 460.1 V 549.1" stroke="#8ca6c0" stroke-width="1" fill="none"/>
<path d="M 285.3,549.1 H 459.6 V 571.3 H 285.3 V 565.1 c 0,-8 -6.4,6.4 -6.4,-6 s 6.4,2 6.4,-6 Z" fill="#5b80a5"/>
<path d="M 285.9,565.1 c 0,-8 -6.4,6.4 -6.4,-6 s 6.4,2 6.4,-6" stroke="#8ca6c0" stroke-width="1" stroke-opacity="0.85" fill="none"/>
<path d="M 285.8,570.3 V 565.1 M 285.8,553.1 V 549.6 H 458.6" stroke="#8ca6c0" stroke-width="1" fill="none"/>
<path d="M 459.1,549.6 V 570.8 H 285.8" stroke="#496684" stroke-width="1" fill="none"/>
<rect x="289.3" y="552.8" width="47" height="14.4" rx="3.6" fill="#bdccdb"/>
<text x="293.45" y="563.7" fill="#000" stroke="#000" textLength="25.34" lengthAdjust="spacing">Wert</text>
<path d="M 324.3,558.1 h 4.4 l -2.2,3.9 z" fill="#5b80a5"/>
<text x="340.66" y="563.7" fill="#fff" stroke="#fff" textLength="75.62" lengthAdjust="spacing">vom Objekt ID</text>
<rect x="418.1" y="552.8" width="36.7" height="14.4" rx="3.6" fill="#bdccdb"/>
<text x="421.52" y="563.7" fill="#000" stroke="#000" textLength="29.54" lengthAdjust="spacing">HWR</text>
<rect x="463.4" y="552.2" width="28.3" height="14.4" rx="3.6" fill="#bdccdb"/>
<text x="467.51" y="563.1" fill="#000" stroke="#000" textLength="6.98" lengthAdjust="spacing">=</text>
<path d="M 480.3,557.6 h 4.4 l -2.2,3.9 z" fill="#5b80a5"/>
<path d="M 500.7,548.6 H 557.7 M 500.7,548.6 V 553.1" stroke="#496684" stroke-width="1" fill="none"/>
<path d="M 500.7,565.1 V 571.3" stroke="#496684" stroke-width="1" fill="none"/>
<path d="M 500.5,565.4 c 0,-8 -6.4,6.4 -6.4,-6 s 6.4,2 6.4,-6" stroke="#496684" stroke-width="1" stroke-opacity="0.55" fill="none"/>
<path d="M 501.2,571.8 H 558.2 V 549.1" stroke="#8ca6c0" stroke-width="1" fill="none"/>
<path d="M 501.2,549.1 H 557.7 V 571.3 H 501.2 V 565.1 c 0,-8 -6.4,6.4 -6.4,-6 s 6.4,2 6.4,-6 Z" fill="#5b80a5"/>
<path d="M 501.8,565.1 c 0,-8 -6.4,6.4 -6.4,-6 s 6.4,2 6.4,-6" stroke="#8ca6c0" stroke-width="1" stroke-opacity="0.85" fill="none"/>
<path d="M 501.7,570.3 V 565.1 M 501.7,553.1 V 549.6 H 556.7" stroke="#8ca6c0" stroke-width="1" fill="none"/>
<path d="M 557.2,549.6 V 570.8 H 501.7" stroke="#496684" stroke-width="1" fill="none"/>
<rect x="505.6" y="552.8" width="46.6" height="14.4" rx="3.6" fill="#bdccdb"/>
<text x="510.42" y="563.7" fill="#000" stroke="#000" textLength="25.38" lengthAdjust="spacing">wahr</text>
<path d="M 543.3,558.1 h 4.4 l -2.2,3.9 z" fill="#5b80a5"/>
<rect x="570.2" y="547.3" width="40.3" height="14.4" rx="3.6" fill="#bdccdb"/>
<text x="574.12" y="558.3" fill="#000" stroke="#000" textLength="20.85" lengthAdjust="spacing">und</text>
<path d="M 601.1,552.8 h 4.4 l -2.2,3.9 z" fill="#5b80a5"/>
<path d="M 620.3,543.7 H 977.5 M 620.3,543.7 V 548.2" stroke="#496684" stroke-width="1" fill="none"/>
<path d="M 620.3,560.2 V 575.4" stroke="#496684" stroke-width="1" fill="none"/>
<path d="M 620.1,560.5 c 0,-8 -6.4,6.4 -6.4,-6 s 6.4,2 6.4,-6" stroke="#496684" stroke-width="1" stroke-opacity="0.55" fill="none"/>
<path d="M 620.8,575.9 H 978 V 544.2" stroke="#8ca6c0" stroke-width="1" fill="none"/>
<path d="M 620.8,544.2 H 977.5 V 575.4 H 620.8 V 560.2 c 0,-8 -6.4,6.4 -6.4,-6 s 6.4,2 6.4,-6 Z" fill="#5b80a5"/>
<path d="M 621.4,560.2 c 0,-8 -6.4,6.4 -6.4,-6 s 6.4,2 6.4,-6" stroke="#8ca6c0" stroke-width="1" stroke-opacity="0.85" fill="none"/>
<path d="M 621.3,574.4 V 560.2 M 621.3,548.2 V 544.7 H 976.5" stroke="#8ca6c0" stroke-width="1" fill="none"/>
<path d="M 977,544.7 V 574.9 H 621.3" stroke="#496684" stroke-width="1" fill="none"/>
<path d="M 633.6,548.6 H 870.6 M 633.6,548.6 V 553.1" stroke="#496684" stroke-width="1" fill="none"/>
<path d="M 633.6,565.1 V 571.3" stroke="#496684" stroke-width="1" fill="none"/>
<path d="M 633.4,565.4 c 0,-8 -6.4,6.4 -6.4,-6 s 6.4,2 6.4,-6" stroke="#496684" stroke-width="1" stroke-opacity="0.55" fill="none"/>
<path d="M 634.1,571.8 H 871.1 V 549.1" stroke="#8ca6c0" stroke-width="1" fill="none"/>
<path d="M 634.1,549.1 H 870.6 V 571.3 H 634.1 V 565.1 c 0,-8 -6.4,6.4 -6.4,-6 s 6.4,2 6.4,-6 Z" fill="#5b80a5"/>
<path d="M 634.7,565.1 c 0,-8 -6.4,6.4 -6.4,-6 s 6.4,2 6.4,-6" stroke="#8ca6c0" stroke-width="1" stroke-opacity="0.85" fill="none"/>
<path d="M 634.6,570.3 V 565.1 M 634.6,553.1 V 549.6 H 869.6" stroke="#8ca6c0" stroke-width="1" fill="none"/>
<path d="M 870.1,549.6 V 570.8 H 634.6" stroke="#496684" stroke-width="1" fill="none"/>
<rect x="638.1" y="552.8" width="47" height="14.4" rx="3.6" fill="#bdccdb"/>
<text x="642.25" y="563.7" fill="#000" stroke="#000" textLength="25.34" lengthAdjust="spacing">Wert</text>
<path d="M 673.1,558.1 h 4.4 l -2.2,3.9 z" fill="#5b80a5"/>
<text x="689.46" y="563.7" fill="#fff" stroke="#fff" textLength="75.62" lengthAdjust="spacing">vom Objekt ID</text>
<rect x="766.9" y="552.8" width="98.9" height="14.4" rx="3.6" fill="#bdccdb"/>
<text x="770.32" y="563.7" fill="#000" stroke="#000" textLength="98.16" lengthAdjust="spacing">Reinigung starten</text>
<rect x="874.4" y="552.2" width="28.3" height="14.4" rx="3.6" fill="#bdccdb"/>
<text x="878.51" y="563.1" fill="#000" stroke="#000" textLength="6.98" lengthAdjust="spacing">=</text>
<path d="M 891.3,557.6 h 4.4 l -2.2,3.9 z" fill="#5b80a5"/>
<path d="M 911.7,548.6 H 968.7 M 911.7,548.6 V 553.1" stroke="#496684" stroke-width="1" fill="none"/>
<path d="M 911.7,565.1 V 571.3" stroke="#496684" stroke-width="1" fill="none"/>
<path d="M 911.5,565.4 c 0,-8 -6.4,6.4 -6.4,-6 s 6.4,2 6.4,-6" stroke="#496684" stroke-width="1" stroke-opacity="0.55" fill="none"/>
<path d="M 912.2,571.8 H 969.2 V 549.1" stroke="#8ca6c0" stroke-width="1" fill="none"/>
<path d="M 912.2,549.1 H 968.7 V 571.3 H 912.2 V 565.1 c 0,-8 -6.4,6.4 -6.4,-6 s 6.4,2 6.4,-6 Z" fill="#5b80a5"/>
<path d="M 912.8,565.1 c 0,-8 -6.4,6.4 -6.4,-6 s 6.4,2 6.4,-6" stroke="#8ca6c0" stroke-width="1" stroke-opacity="0.85" fill="none"/>
<path d="M 912.7,570.3 V 565.1 M 912.7,553.1 V 549.6 H 967.7" stroke="#8ca6c0" stroke-width="1" fill="none"/>
<path d="M 968.2,549.6 V 570.8 H 912.7" stroke="#496684" stroke-width="1" fill="none"/>
<rect x="916.6" y="552.8" width="46.6" height="14.4" rx="3.6" fill="#bdccdb"/>
<text x="921.42" y="563.7" fill="#000" stroke="#000" textLength="25.38" lengthAdjust="spacing">wahr</text>
<path d="M 954.3,558.1 h 4.4 l -2.2,3.9 z" fill="#5b80a5"/>
<path d="M 234.3,585.7 a 6.4,6.4 0 0,1 6.4,-6.4 H 246.3 l 4.8,3.2 2.4,0 4.8,-3.2 H 774.1 V 610.6 H 258.3 l -4.8,3.2 -2.4,0 -4.8,-3.2 H 240.7 a 6.4,6.4 0 0,1 -6.4,-6.4 Z" fill="#496684" transform="translate(1,1)"/>
<path d="M 234.3,585.7 a 6.4,6.4 0 0,1 6.4,-6.4 H 246.3 l 4.8,3.2 2.4,0 4.8,-3.2 H 774.1 V 610.6 H 258.3 l -4.8,3.2 -2.4,0 -4.8,-3.2 H 240.7 a 6.4,6.4 0 0,1 -6.4,-6.4 Z" fill="#5b80a5"/>
<path d="M 233.8,587.7 V 585.7 a 6.9,6.9 0 0,1 6.9,-6.9 H 246.3 l 4.8,3.2 2.4,0 4.8,-3.2 H 258.3" stroke="#496684" stroke-width="1" stroke-opacity="0.9" fill="none"/>
<path d="M 234.8,604.2 V 585.7 a 5.9,5.9 0 0,1 5.9,-5.9 H 246.3 l 4.8,3.2 2.4,0 4.8,-3.2 H 773.6" stroke="#8ca6c0" stroke-width="1" stroke-opacity="0.85" fill="none"/>
<text x="242.07" y="598.5" fill="#fff" stroke="#fff" textLength="41.87" lengthAdjust="spacing">steuere</text>
<rect x="285.8" y="587.6" width="280" height="14.4" rx="3.6" fill="#bdccdb"/>
<text x="289.96" y="598.5" fill="#000" stroke="#000" textLength="275.34" lengthAdjust="spacing">Start cleaning multiple spot areas (comma-separa</text>
<text x="565.9" y="598.5" fill="#000" fill-opacity="0.75" font-size="11">…</text>
<text x="570.1" y="598.5" fill="#fff" stroke="#fff" textLength="16.88" lengthAdjust="spacing">mit</text>
<path d="M 598.3,583.6 H 661.1 M 598.3,583.6 V 588.1" stroke="#496684" stroke-width="1" fill="none"/>
<path d="M 598.3,600.1 V 606.7" stroke="#496684" stroke-width="1" fill="none"/>
<path d="M 598.1,600.4 c 0,-8 -6.4,6.4 -6.4,-6 s 6.4,2 6.4,-6" stroke="#496684" stroke-width="1" stroke-opacity="0.55" fill="none"/>
<path d="M 598.8,607.2 H 661.6 V 584.1" stroke="#8ca6c0" stroke-width="1" fill="none"/>
<path d="M 598.8,584.1 H 661.1 V 606.7 H 598.8 V 600.1 c 0,-8 -6.4,6.4 -6.4,-6 s 6.4,2 6.4,-6 Z" fill="#5ba58c"/>
<path d="M 599.4,600.1 c 0,-8 -6.4,6.4 -6.4,-6 s 6.4,2 6.4,-6" stroke="#8cc0ae" stroke-width="1" stroke-opacity="0.85" fill="none"/>
<path d="M 599.3,605.7 V 600.1 M 599.3,588.1 V 584.6 H 660.1" stroke="#8cc0ae" stroke-width="1" fill="none"/>
<path d="M 660.6,584.6 V 606.2 H 599.3" stroke="#498470" stroke-width="1" fill="none"/>
<text x="607.2" y="603.7" fill="#fff" font-size="21" font-weight="bold" font-family="Liberation Serif, serif">“</text>
<rect x="621.1" y="588.4" width="17.5" height="14.4" rx="3.6" fill="#bddbd1"/>
<text x="625.4" y="599.7" fill="#000" stroke="#000">3,</text>
<text x="641.5" y="603.7" fill="#fff" font-size="21" font-weight="bold" font-family="Liberation Serif, serif">”</text>
<text x="668.8" y="598.5" fill="#fff" stroke="#fff" textLength="88.07" lengthAdjust="spacing">mit Verzögerung</text>
<rect x="757.9" y="587.4" width="12" height="14" rx="3.2" fill="#bdccdb"/>
<path d="M 258.3,613.7 H 996.5 V 653.7 H 258.3 V 629.7 c 0,-8 -6.4,6.4 -6.4,-6 s 6.4,2 6.4,-6 Z" fill="#496684" transform="translate(1,1)"/>
<path d="M 258.3,613.7 H 996.5 V 653.7 H 258.3 V 629.7 c 0,-8 -6.4,6.4 -6.4,-6 s 6.4,2 6.4,-6 Z" fill="#5b80a5"/>
<path d="M 258.3,614.2 H 995.5 M 258.8,614.2 V 617.7 M 258.8,629.7 V 653.2" stroke="#8ca6c0" stroke-width="1" stroke-opacity="0.8" fill="none"/>
<path d="M 257.6,630 c 0,-8 -6.4,6.4 -6.4,-6 s 6.4,2 6.4,-6" stroke="#496684" stroke-width="1" stroke-opacity="0.55" fill="none"/>
<path d="M 258.9,629.7 c 0,-8 -6.4,6.4 -6.4,-6 s 6.4,2 6.4,-6" stroke="#8ca6c0" stroke-width="1" stroke-opacity="0.85" fill="none"/>
<path d="M 271.5,618.2 H 577.7 M 271.5,618.2 V 622.7" stroke="#496684" stroke-width="1" fill="none"/>
<path d="M 271.5,634.7 V 649.9" stroke="#496684" stroke-width="1" fill="none"/>
<path d="M 271.3,635 c 0,-8 -6.4,6.4 -6.4,-6 s 6.4,2 6.4,-6" stroke="#496684" stroke-width="1" stroke-opacity="0.55" fill="none"/>
<path d="M 272,650.4 H 578.2 V 618.7" stroke="#8ca6c0" stroke-width="1" fill="none"/>
<path d="M 272,618.7 H 577.7 V 649.9 H 272 V 634.7 c 0,-8 -6.4,6.4 -6.4,-6 s 6.4,2 6.4,-6 Z" fill="#5b80a5"/>
<path d="M 272.6,634.7 c 0,-8 -6.4,6.4 -6.4,-6 s 6.4,2 6.4,-6" stroke="#8ca6c0" stroke-width="1" stroke-opacity="0.85" fill="none"/>
<path d="M 272.5,648.9 V 634.7 M 272.5,622.7 V 619.2 H 576.7" stroke="#8ca6c0" stroke-width="1" fill="none"/>
<path d="M 577.2,619.2 V 649.4 H 272.5" stroke="#496684" stroke-width="1" fill="none"/>
<path d="M 284.8,623.1 H 470.8 M 284.8,623.1 V 627.6" stroke="#496684" stroke-width="1" fill="none"/>
<path d="M 284.8,639.6 V 645.8" stroke="#496684" stroke-width="1" fill="none"/>
<path d="M 284.6,639.9 c 0,-8 -6.4,6.4 -6.4,-6 s 6.4,2 6.4,-6" stroke="#496684" stroke-width="1" stroke-opacity="0.55" fill="none"/>
<path d="M 285.3,646.3 H 471.3 V 623.6" stroke="#8ca6c0" stroke-width="1" fill="none"/>
<path d="M 285.3,623.6 H 470.8 V 645.8 H 285.3 V 639.6 c 0,-8 -6.4,6.4 -6.4,-6 s 6.4,2 6.4,-6 Z" fill="#5b80a5"/>
<path d="M 285.9,639.6 c 0,-8 -6.4,6.4 -6.4,-6 s 6.4,2 6.4,-6" stroke="#8ca6c0" stroke-width="1" stroke-opacity="0.85" fill="none"/>
<path d="M 285.8,644.8 V 639.6 M 285.8,627.6 V 624.1 H 469.8" stroke="#8ca6c0" stroke-width="1" fill="none"/>
<path d="M 470.3,624.1 V 645.3 H 285.8" stroke="#496684" stroke-width="1" fill="none"/>
<rect x="289.3" y="627.3" width="47" height="14.4" rx="3.6" fill="#bdccdb"/>
<text x="293.45" y="638.2" fill="#000" stroke="#000" textLength="25.34" lengthAdjust="spacing">Wert</text>
<path d="M 324.3,632.6 h 4.4 l -2.2,3.9 z" fill="#5b80a5"/>
<text x="340.66" y="638.2" fill="#fff" stroke="#fff" textLength="75.62" lengthAdjust="spacing">vom Objekt ID</text>
<rect x="418.1" y="627.3" width="47.9" height="14.4" rx="3.6" fill="#bdccdb"/>
<text x="421.52" y="638.2" fill="#000" stroke="#000" textLength="41.88" lengthAdjust="spacing">Flur EG</text>
<rect x="474.6" y="626.7" width="28.3" height="14.4" rx="3.6" fill="#bdccdb"/>
<text x="478.71" y="637.6" fill="#000" stroke="#000" textLength="6.98" lengthAdjust="spacing">=</text>
<path d="M 491.5,632.1 h 4.4 l -2.2,3.9 z" fill="#5b80a5"/>
<path d="M 511.9,623.1 H 568.9 M 511.9,623.1 V 627.6" stroke="#496684" stroke-width="1" fill="none"/>
<path d="M 511.9,639.6 V 645.8" stroke="#496684" stroke-width="1" fill="none"/>
<path d="M 511.7,639.9 c 0,-8 -6.4,6.4 -6.4,-6 s 6.4,2 6.4,-6" stroke="#496684" stroke-width="1" stroke-opacity="0.55" fill="none"/>
<path d="M 512.4,646.3 H 569.4 V 623.6" stroke="#8ca6c0" stroke-width="1" fill="none"/>
<path d="M 512.4,623.6 H 568.9 V 645.8 H 512.4 V 639.6 c 0,-8 -6.4,6.4 -6.4,-6 s 6.4,2 6.4,-6 Z" fill="#5b80a5"/>
<path d="M 513,639.6 c 0,-8 -6.4,6.4 -6.4,-6 s 6.4,2 6.4,-6" stroke="#8ca6c0" stroke-width="1" stroke-opacity="0.85" fill="none"/>
<path d="M 512.9,644.8 V 639.6 M 512.9,627.6 V 624.1 H 567.9" stroke="#8ca6c0" stroke-width="1" fill="none"/>
<path d="M 568.4,624.1 V 645.3 H 512.9" stroke="#496684" stroke-width="1" fill="none"/>
<rect x="516.8" y="627.3" width="46.6" height="14.4" rx="3.6" fill="#bdccdb"/>
<text x="521.62" y="638.2" fill="#000" stroke="#000" textLength="25.38" lengthAdjust="spacing">wahr</text>
<path d="M 554.5,632.6 h 4.4 l -2.2,3.9 z" fill="#5b80a5"/>
<rect x="581.4" y="621.8" width="40.3" height="14.4" rx="3.6" fill="#bdccdb"/>
<text x="585.32" y="632.8" fill="#000" stroke="#000" textLength="20.85" lengthAdjust="spacing">und</text>
<path d="M 612.3,627.3 h 4.4 l -2.2,3.9 z" fill="#5b80a5"/>
<path d="M 631.5,618.2 H 988.7 M 631.5,618.2 V 622.7" stroke="#496684" stroke-width="1" fill="none"/>
<path d="M 631.5,634.7 V 649.9" stroke="#496684" stroke-width="1" fill="none"/>
<path d="M 631.3,635 c 0,-8 -6.4,6.4 -6.4,-6 s 6.4,2 6.4,-6" stroke="#496684" stroke-width="1" stroke-opacity="0.55" fill="none"/>
<path d="M 632,650.4 H 989.2 V 618.7" stroke="#8ca6c0" stroke-width="1" fill="none"/>
<path d="M 632,618.7 H 988.7 V 649.9 H 632 V 634.7 c 0,-8 -6.4,6.4 -6.4,-6 s 6.4,2 6.4,-6 Z" fill="#5b80a5"/>
<path d="M 632.6,634.7 c 0,-8 -6.4,6.4 -6.4,-6 s 6.4,2 6.4,-6" stroke="#8ca6c0" stroke-width="1" stroke-opacity="0.85" fill="none"/>
<path d="M 632.5,648.9 V 634.7 M 632.5,622.7 V 619.2 H 987.7" stroke="#8ca6c0" stroke-width="1" fill="none"/>
<path d="M 988.2,619.2 V 649.4 H 632.5" stroke="#496684" stroke-width="1" fill="none"/>
<path d="M 644.8,623.1 H 881.8 M 644.8,623.1 V 627.6" stroke="#496684" stroke-width="1" fill="none"/>
<path d="M 644.8,639.6 V 645.8" stroke="#496684" stroke-width="1" fill="none"/>
<path d="M 644.6,639.9 c 0,-8 -6.4,6.4 -6.4,-6 s 6.4,2 6.4,-6" stroke="#496684" stroke-width="1" stroke-opacity="0.55" fill="none"/>
<path d="M 645.3,646.3 H 882.3 V 623.6" stroke="#8ca6c0" stroke-width="1" fill="none"/>
<path d="M 645.3,623.6 H 881.8 V 645.8 H 645.3 V 639.6 c 0,-8 -6.4,6.4 -6.4,-6 s 6.4,2 6.4,-6 Z" fill="#5b80a5"/>
<path d="M 645.9,639.6 c 0,-8 -6.4,6.4 -6.4,-6 s 6.4,2 6.4,-6" stroke="#8ca6c0" stroke-width="1" stroke-opacity="0.85" fill="none"/>
<path d="M 645.8,644.8 V 639.6 M 645.8,627.6 V 624.1 H 880.8" stroke="#8ca6c0" stroke-width="1" fill="none"/>
<path d="M 881.3,624.1 V 645.3 H 645.8" stroke="#496684" stroke-width="1" fill="none"/>
<rect x="649.3" y="627.3" width="47" height="14.4" rx="3.6" fill="#bdccdb"/>
<text x="653.45" y="638.2" fill="#000" stroke="#000" textLength="25.34" lengthAdjust="spacing">Wert</text>
<path d="M 684.3,632.6 h 4.4 l -2.2,3.9 z" fill="#5b80a5"/>
<text x="700.66" y="638.2" fill="#fff" stroke="#fff" textLength="75.62" lengthAdjust="spacing">vom Objekt ID</text>
<rect x="778.1" y="627.3" width="98.9" height="14.4" rx="3.6" fill="#bdccdb"/>
<text x="781.52" y="638.2" fill="#000" stroke="#000" textLength="98.16" lengthAdjust="spacing">Reinigung starten</text>
<rect x="885.6" y="626.7" width="28.3" height="14.4" rx="3.6" fill="#bdccdb"/>
<text x="889.71" y="637.6" fill="#000" stroke="#000" textLength="6.98" lengthAdjust="spacing">=</text>
<path d="M 902.5,632.1 h 4.4 l -2.2,3.9 z" fill="#5b80a5"/>
<path d="M 922.9,623.1 H 979.9 M 922.9,623.1 V 627.6" stroke="#496684" stroke-width="1" fill="none"/>
<path d="M 922.9,639.6 V 645.8" stroke="#496684" stroke-width="1" fill="none"/>
<path d="M 922.7,639.9 c 0,-8 -6.4,6.4 -6.4,-6 s 6.4,2 6.4,-6" stroke="#496684" stroke-width="1" stroke-opacity="0.55" fill="none"/>
<path d="M 923.4,646.3 H 980.4 V 623.6" stroke="#8ca6c0" stroke-width="1" fill="none"/>
<path d="M 923.4,623.6 H 979.9 V 645.8 H 923.4 V 639.6 c 0,-8 -6.4,6.4 -6.4,-6 s 6.4,2 6.4,-6 Z" fill="#5b80a5"/>
<path d="M 924,639.6 c 0,-8 -6.4,6.4 -6.4,-6 s 6.4,2 6.4,-6" stroke="#8ca6c0" stroke-width="1" stroke-opacity="0.85" fill="none"/>
<path d="M 923.9,644.8 V 639.6 M 923.9,627.6 V 624.1 H 978.9" stroke="#8ca6c0" stroke-width="1" fill="none"/>
<path d="M 979.4,624.1 V 645.3 H 923.9" stroke="#496684" stroke-width="1" fill="none"/>
<rect x="927.8" y="627.3" width="46.6" height="14.4" rx="3.6" fill="#bdccdb"/>
<text x="932.62" y="638.2" fill="#000" stroke="#000" textLength="25.38" lengthAdjust="spacing">wahr</text>
<path d="M 965.5,632.6 h 4.4 l -2.2,3.9 z" fill="#5b80a5"/>
<path d="M 234.3,660.2 a 6.4,6.4 0 0,1 6.4,-6.4 H 246.3 l 4.8,3.2 2.4,0 4.8,-3.2 H 780.3 V 685.1 H 258.3 l -4.8,3.2 -2.4,0 -4.8,-3.2 H 240.7 a 6.4,6.4 0 0,1 -6.4,-6.4 Z" fill="#496684" transform="translate(1,1)"/>
<path d="M 234.3,660.2 a 6.4,6.4 0 0,1 6.4,-6.4 H 246.3 l 4.8,3.2 2.4,0 4.8,-3.2 H 780.3 V 685.1 H 258.3 l -4.8,3.2 -2.4,0 -4.8,-3.2 H 240.7 a 6.4,6.4 0 0,1 -6.4,-6.4 Z" fill="#5b80a5"/>
<path d="M 233.8,662.2 V 660.2 a 6.9,6.9 0 0,1 6.9,-6.9 H 246.3 l 4.8,3.2 2.4,0 4.8,-3.2 H 258.3" stroke="#496684" stroke-width="1" stroke-opacity="0.9" fill="none"/>
<path d="M 234.8,678.7 V 660.2 a 5.9,5.9 0 0,1 5.9,-5.9 H 246.3 l 4.8,3.2 2.4,0 4.8,-3.2 H 779.8" stroke="#8ca6c0" stroke-width="1" stroke-opacity="0.85" fill="none"/>
<text x="242.07" y="673" fill="#fff" stroke="#fff" textLength="41.87" lengthAdjust="spacing">steuere</text>
<rect x="285.8" y="662.1" width="280" height="14.4" rx="3.6" fill="#bdccdb"/>
<text x="289.96" y="673" fill="#000" stroke="#000" textLength="275.34" lengthAdjust="spacing">Start cleaning multiple spot areas (comma-separa</text>
<text x="565.9" y="673" fill="#000" fill-opacity="0.75" font-size="11">…</text>
<text x="570.1" y="673" fill="#fff" stroke="#fff" textLength="16.88" lengthAdjust="spacing">mit</text>
<path d="M 598.3,658.1 H 667.3 M 598.3,658.1 V 662.6" stroke="#496684" stroke-width="1" fill="none"/>
<path d="M 598.3,674.6 V 681.2" stroke="#496684" stroke-width="1" fill="none"/>
<path d="M 598.1,674.9 c 0,-8 -6.4,6.4 -6.4,-6 s 6.4,2 6.4,-6" stroke="#496684" stroke-width="1" stroke-opacity="0.55" fill="none"/>
<path d="M 598.8,681.7 H 667.8 V 658.6" stroke="#8ca6c0" stroke-width="1" fill="none"/>
<path d="M 598.8,658.6 H 667.3 V 681.2 H 598.8 V 674.6 c 0,-8 -6.4,6.4 -6.4,-6 s 6.4,2 6.4,-6 Z" fill="#5ba58c"/>
<path d="M 599.4,674.6 c 0,-8 -6.4,6.4 -6.4,-6 s 6.4,2 6.4,-6" stroke="#8cc0ae" stroke-width="1" stroke-opacity="0.85" fill="none"/>
<path d="M 599.3,680.2 V 674.6 M 599.3,662.6 V 659.1 H 666.3" stroke="#8cc0ae" stroke-width="1" fill="none"/>
<path d="M 666.8,659.1 V 680.7 H 599.3" stroke="#498470" stroke-width="1" fill="none"/>
<text x="607.2" y="678.2" fill="#fff" font-size="21" font-weight="bold" font-family="Liberation Serif, serif">“</text>
<rect x="621.1" y="662.9" width="23.8" height="14.4" rx="3.6" fill="#bddbd1"/>
<text x="625.4" y="674.2" fill="#000" stroke="#000">12,</text>
<text x="647.8" y="678.2" fill="#fff" font-size="21" font-weight="bold" font-family="Liberation Serif, serif">”</text>
<text x="675" y="673" fill="#fff" stroke="#fff" textLength="88.07" lengthAdjust="spacing">mit Verzögerung</text>
<rect x="764.1" y="661.9" width="12" height="14" rx="3.2" fill="#bdccdb"/>
<path d="M 258.3,688.2 H 1006.8 V 728.2 H 258.3 V 704.2 c 0,-8 -6.4,6.4 -6.4,-6 s 6.4,2 6.4,-6 Z" fill="#496684" transform="translate(1,1)"/>
<path d="M 258.3,688.2 H 1006.8 V 728.2 H 258.3 V 704.2 c 0,-8 -6.4,6.4 -6.4,-6 s 6.4,2 6.4,-6 Z" fill="#5b80a5"/>
<path d="M 258.3,688.7 H 1005.8 M 258.8,688.7 V 692.2 M 258.8,704.2 V 727.7" stroke="#8ca6c0" stroke-width="1" stroke-opacity="0.8" fill="none"/>
<path d="M 257.6,704.5 c 0,-8 -6.4,6.4 -6.4,-6 s 6.4,2 6.4,-6" stroke="#496684" stroke-width="1" stroke-opacity="0.55" fill="none"/>
<path d="M 258.9,704.2 c 0,-8 -6.4,6.4 -6.4,-6 s 6.4,2 6.4,-6" stroke="#8ca6c0" stroke-width="1" stroke-opacity="0.85" fill="none"/>
<path d="M 271.5,692.7 H 588 M 271.5,692.7 V 697.2" stroke="#496684" stroke-width="1" fill="none"/>
<path d="M 271.5,709.2 V 724.4" stroke="#496684" stroke-width="1" fill="none"/>
<path d="M 271.3,709.5 c 0,-8 -6.4,6.4 -6.4,-6 s 6.4,2 6.4,-6" stroke="#496684" stroke-width="1" stroke-opacity="0.55" fill="none"/>
<path d="M 272,724.9 H 588.5 V 693.2" stroke="#8ca6c0" stroke-width="1" fill="none"/>
<path d="M 272,693.2 H 588 V 724.4 H 272 V 709.2 c 0,-8 -6.4,6.4 -6.4,-6 s 6.4,2 6.4,-6 Z" fill="#5b80a5"/>
<path d="M 272.6,709.2 c 0,-8 -6.4,6.4 -6.4,-6 s 6.4,2 6.4,-6" stroke="#8ca6c0" stroke-width="1" stroke-opacity="0.85" fill="none"/>
<path d="M 272.5,723.4 V 709.2 M 272.5,697.2 V 693.7 H 587" stroke="#8ca6c0" stroke-width="1" fill="none"/>
<path d="M 587.5,693.7 V 723.9 H 272.5" stroke="#496684" stroke-width="1" fill="none"/>
<path d="M 284.8,697.6 H 481.1 M 284.8,697.6 V 702.1" stroke="#496684" stroke-width="1" fill="none"/>
<path d="M 284.8,714.1 V 720.3" stroke="#496684" stroke-width="1" fill="none"/>
<path d="M 284.6,714.4 c 0,-8 -6.4,6.4 -6.4,-6 s 6.4,2 6.4,-6" stroke="#496684" stroke-width="1" stroke-opacity="0.55" fill="none"/>
<path d="M 285.3,720.8 H 481.6 V 698.1" stroke="#8ca6c0" stroke-width="1" fill="none"/>
<path d="M 285.3,698.1 H 481.1 V 720.3 H 285.3 V 714.1 c 0,-8 -6.4,6.4 -6.4,-6 s 6.4,2 6.4,-6 Z" fill="#5b80a5"/>
<path d="M 285.9,714.1 c 0,-8 -6.4,6.4 -6.4,-6 s 6.4,2 6.4,-6" stroke="#8ca6c0" stroke-width="1" stroke-opacity="0.85" fill="none"/>
<path d="M 285.8,719.3 V 714.1 M 285.8,702.1 V 698.6 H 480.1" stroke="#8ca6c0" stroke-width="1" fill="none"/>
<path d="M 480.6,698.6 V 719.8 H 285.8" stroke="#496684" stroke-width="1" fill="none"/>
<rect x="289.3" y="701.8" width="47" height="14.4" rx="3.6" fill="#bdccdb"/>
<text x="293.45" y="712.7" fill="#000" stroke="#000" textLength="25.34" lengthAdjust="spacing">Wert</text>
<path d="M 324.3,707.1 h 4.4 l -2.2,3.9 z" fill="#5b80a5"/>
<text x="340.66" y="712.7" fill="#fff" stroke="#fff" textLength="75.62" lengthAdjust="spacing">vom Objekt ID</text>
<rect x="418.1" y="701.8" width="58.2" height="14.4" rx="3.6" fill="#bdccdb"/>
<text x="421.9" y="712.7" fill="#000" stroke="#000" textLength="54.38" lengthAdjust="spacing">Gästebad</text>
<rect x="484.9" y="701.2" width="28.3" height="14.4" rx="3.6" fill="#bdccdb"/>
<text x="489.01" y="712.1" fill="#000" stroke="#000" textLength="6.98" lengthAdjust="spacing">=</text>
<path d="M 501.8,706.6 h 4.4 l -2.2,3.9 z" fill="#5b80a5"/>
<path d="M 522.2,697.6 H 579.2 M 522.2,697.6 V 702.1" stroke="#496684" stroke-width="1" fill="none"/>
<path d="M 522.2,714.1 V 720.3" stroke="#496684" stroke-width="1" fill="none"/>
<path d="M 522,714.4 c 0,-8 -6.4,6.4 -6.4,-6 s 6.4,2 6.4,-6" stroke="#496684" stroke-width="1" stroke-opacity="0.55" fill="none"/>
<path d="M 522.7,720.8 H 579.7 V 698.1" stroke="#8ca6c0" stroke-width="1" fill="none"/>
<path d="M 522.7,698.1 H 579.2 V 720.3 H 522.7 V 714.1 c 0,-8 -6.4,6.4 -6.4,-6 s 6.4,2 6.4,-6 Z" fill="#5b80a5"/>
<path d="M 523.3,714.1 c 0,-8 -6.4,6.4 -6.4,-6 s 6.4,2 6.4,-6" stroke="#8ca6c0" stroke-width="1" stroke-opacity="0.85" fill="none"/>
<path d="M 523.2,719.3 V 714.1 M 523.2,702.1 V 698.6 H 578.2" stroke="#8ca6c0" stroke-width="1" fill="none"/>
<path d="M 578.7,698.6 V 719.8 H 523.2" stroke="#496684" stroke-width="1" fill="none"/>
<rect x="527.1" y="701.8" width="46.6" height="14.4" rx="3.6" fill="#bdccdb"/>
<text x="531.92" y="712.7" fill="#000" stroke="#000" textLength="25.38" lengthAdjust="spacing">wahr</text>
<path d="M 564.8,707.1 h 4.4 l -2.2,3.9 z" fill="#5b80a5"/>
<rect x="591.7" y="696.3" width="40.3" height="14.4" rx="3.6" fill="#bdccdb"/>
<text x="595.62" y="707.3" fill="#000" stroke="#000" textLength="20.85" lengthAdjust="spacing">und</text>
<path d="M 622.6,701.8 h 4.4 l -2.2,3.9 z" fill="#5b80a5"/>
<path d="M 641.8,692.7 H 999 M 641.8,692.7 V 697.2" stroke="#496684" stroke-width="1" fill="none"/>
<path d="M 641.8,709.2 V 724.4" stroke="#496684" stroke-width="1" fill="none"/>
<path d="M 641.6,709.5 c 0,-8 -6.4,6.4 -6.4,-6 s 6.4,2 6.4,-6" stroke="#496684" stroke-width="1" stroke-opacity="0.55" fill="none"/>
<path d="M 642.3,724.9 H 999.5 V 693.2" stroke="#8ca6c0" stroke-width="1" fill="none"/>
<path d="M 642.3,693.2 H 999 V 724.4 H 642.3 V 709.2 c 0,-8 -6.4,6.4 -6.4,-6 s 6.4,2 6.4,-6 Z" fill="#5b80a5"/>
<path d="M 642.9,709.2 c 0,-8 -6.4,6.4 -6.4,-6 s 6.4,2 6.4,-6" stroke="#8ca6c0" stroke-width="1" stroke-opacity="0.85" fill="none"/>
<path d="M 642.8,723.4 V 709.2 M 642.8,697.2 V 693.7 H 998" stroke="#8ca6c0" stroke-width="1" fill="none"/>
<path d="M 998.5,693.7 V 723.9 H 642.8" stroke="#496684" stroke-width="1" fill="none"/>
<path d="M 655.1,697.6 H 892.1 M 655.1,697.6 V 702.1" stroke="#496684" stroke-width="1" fill="none"/>
<path d="M 655.1,714.1 V 720.3" stroke="#496684" stroke-width="1" fill="none"/>
<path d="M 654.9,714.4 c 0,-8 -6.4,6.4 -6.4,-6 s 6.4,2 6.4,-6" stroke="#496684" stroke-width="1" stroke-opacity="0.55" fill="none"/>
<path d="M 655.6,720.8 H 892.6 V 698.1" stroke="#8ca6c0" stroke-width="1" fill="none"/>
<path d="M 655.6,698.1 H 892.1 V 720.3 H 655.6 V 714.1 c 0,-8 -6.4,6.4 -6.4,-6 s 6.4,2 6.4,-6 Z" fill="#5b80a5"/>
<path d="M 656.2,714.1 c 0,-8 -6.4,6.4 -6.4,-6 s 6.4,2 6.4,-6" stroke="#8ca6c0" stroke-width="1" stroke-opacity="0.85" fill="none"/>
<path d="M 656.1,719.3 V 714.1 M 656.1,702.1 V 698.6 H 891.1" stroke="#8ca6c0" stroke-width="1" fill="none"/>
<path d="M 891.6,698.6 V 719.8 H 656.1" stroke="#496684" stroke-width="1" fill="none"/>
<rect x="659.6" y="701.8" width="47" height="14.4" rx="3.6" fill="#bdccdb"/>
<text x="663.75" y="712.7" fill="#000" stroke="#000" textLength="25.34" lengthAdjust="spacing">Wert</text>
<path d="M 694.6,707.1 h 4.4 l -2.2,3.9 z" fill="#5b80a5"/>
<text x="710.96" y="712.7" fill="#fff" stroke="#fff" textLength="75.62" lengthAdjust="spacing">vom Objekt ID</text>
<rect x="788.4" y="701.8" width="98.9" height="14.4" rx="3.6" fill="#bdccdb"/>
<text x="791.82" y="712.7" fill="#000" stroke="#000" textLength="98.16" lengthAdjust="spacing">Reinigung starten</text>
<rect x="895.9" y="701.2" width="28.3" height="14.4" rx="3.6" fill="#bdccdb"/>
<text x="900.01" y="712.1" fill="#000" stroke="#000" textLength="6.98" lengthAdjust="spacing">=</text>
<path d="M 912.8,706.6 h 4.4 l -2.2,3.9 z" fill="#5b80a5"/>
<path d="M 933.2,697.6 H 990.2 M 933.2,697.6 V 702.1" stroke="#496684" stroke-width="1" fill="none"/>
<path d="M 933.2,714.1 V 720.3" stroke="#496684" stroke-width="1" fill="none"/>
<path d="M 933,714.4 c 0,-8 -6.4,6.4 -6.4,-6 s 6.4,2 6.4,-6" stroke="#496684" stroke-width="1" stroke-opacity="0.55" fill="none"/>
<path d="M 933.7,720.8 H 990.7 V 698.1" stroke="#8ca6c0" stroke-width="1" fill="none"/>
<path d="M 933.7,698.1 H 990.2 V 720.3 H 933.7 V 714.1 c 0,-8 -6.4,6.4 -6.4,-6 s 6.4,2 6.4,-6 Z" fill="#5b80a5"/>
<path d="M 934.3,714.1 c 0,-8 -6.4,6.4 -6.4,-6 s 6.4,2 6.4,-6" stroke="#8ca6c0" stroke-width="1" stroke-opacity="0.85" fill="none"/>
<path d="M 934.2,719.3 V 714.1 M 934.2,702.1 V 698.6 H 989.2" stroke="#8ca6c0" stroke-width="1" fill="none"/>
<path d="M 989.7,698.6 V 719.8 H 934.2" stroke="#496684" stroke-width="1" fill="none"/>
<rect x="938.1" y="701.8" width="46.6" height="14.4" rx="3.6" fill="#bdccdb"/>
<text x="942.92" y="712.7" fill="#000" stroke="#000" textLength="25.38" lengthAdjust="spacing">wahr</text>
<path d="M 975.8,707.1 h 4.4 l -2.2,3.9 z" fill="#5b80a5"/>
</svg></body></html>
